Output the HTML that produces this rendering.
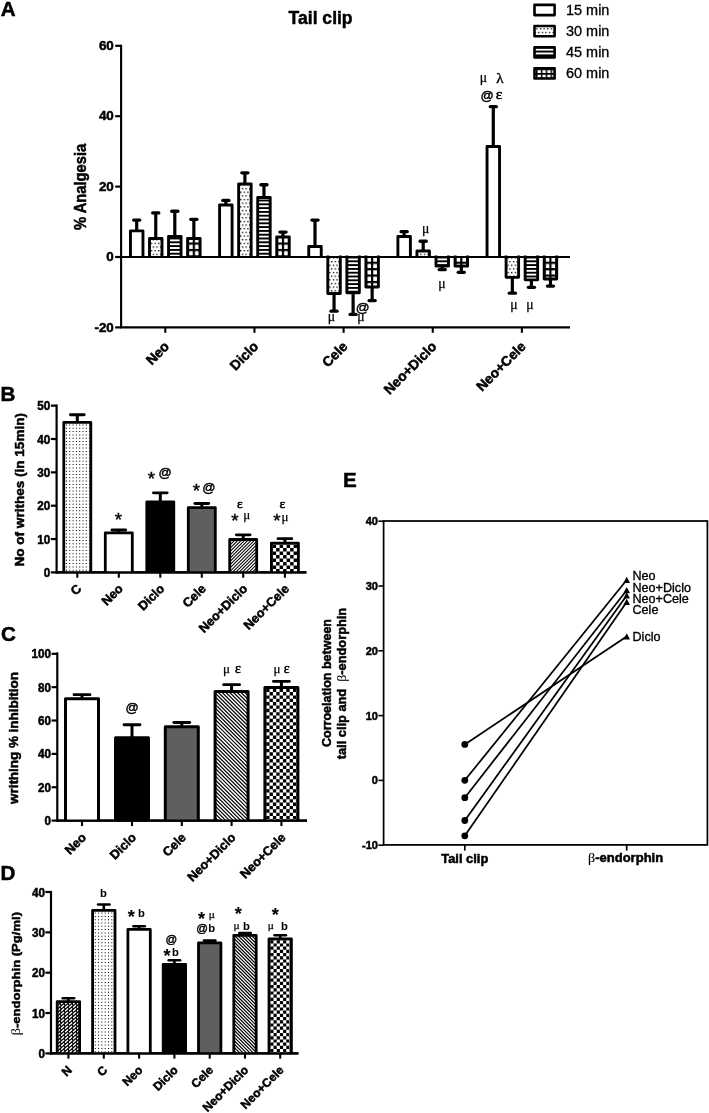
<!DOCTYPE html>
<html><head><meta charset="utf-8"><title>Figure</title>
<style>
html,body{margin:0;padding:0;background:#fff;}
body{width:709px;height:1113px;overflow:hidden;font-family:"Liberation Sans",sans-serif;}
svg{display:block;will-change:transform;}
text{fill:#000;}
text[font-weight=bold]{stroke:#000;stroke-width:0.5px;}
</style></head><body>
<svg width="709" height="1113" viewBox="0 0 709 1113">
<rect width="709" height="1113" fill="#fff"/>

<text x="0.80" y="15.80" font-size="20.6" font-weight="bold" text-anchor="start" font-family='"Liberation Sans", sans-serif' >A</text>
<text x="0.60" y="400.60" font-size="20.6" font-weight="bold" text-anchor="start" font-family='"Liberation Sans", sans-serif' >B</text>
<text x="0.90" y="640.70" font-size="20.6" font-weight="bold" text-anchor="start" font-family='"Liberation Sans", sans-serif' >C</text>
<text x="0.60" y="880.00" font-size="20.6" font-weight="bold" text-anchor="start" font-family='"Liberation Sans", sans-serif' >D</text>
<text x="342.90" y="486.70" font-size="20.6" font-weight="bold" text-anchor="start" font-family='"Liberation Sans", sans-serif' >E</text>
<text x="320.60" y="23.80" font-size="18.6" font-weight="bold" text-anchor="middle" font-family='"Liberation Sans", sans-serif' textLength="64.00" lengthAdjust="spacingAndGlyphs" >Tail clip</text>
<rect x="534.50" y="4.90" width="20.10" height="10.20" fill="#fff" stroke="#000" stroke-width="2.6" stroke-linejoin="round"/>
<text x="566.00" y="14.90" font-size="14" font-weight="normal" text-anchor="start" font-family='"Liberation Sans", sans-serif' textLength="43.40" lengthAdjust="spacingAndGlyphs" stroke="#000" stroke-width="0.3">15 min</text>
<rect x="534.50" y="26.05" width="20.10" height="10.20" fill="url(#p0)" stroke="#000" stroke-width="2.6" stroke-linejoin="round"/>
<text x="566.00" y="36.05" font-size="14" font-weight="normal" text-anchor="start" font-family='"Liberation Sans", sans-serif' textLength="43.40" lengthAdjust="spacingAndGlyphs" stroke="#000" stroke-width="0.3">30 min</text>
<rect x="534.50" y="47.20" width="20.10" height="10.20" fill="url(#p1)" stroke="#000" stroke-width="2.6" stroke-linejoin="round"/>
<text x="566.00" y="57.20" font-size="14" font-weight="normal" text-anchor="start" font-family='"Liberation Sans", sans-serif' textLength="43.40" lengthAdjust="spacingAndGlyphs" stroke="#000" stroke-width="0.3">45 min</text>
<rect x="534.50" y="68.35" width="20.10" height="10.20" fill="url(#p2)" stroke="#000" stroke-width="2.6" stroke-linejoin="round"/>
<text x="566.00" y="78.35" font-size="14" font-weight="normal" text-anchor="start" font-family='"Liberation Sans", sans-serif' textLength="43.40" lengthAdjust="spacingAndGlyphs" stroke="#000" stroke-width="0.3">60 min</text>
<line x1="121.10" y1="44.70" x2="121.10" y2="327.90" stroke="#000" stroke-width="2.1" stroke-linecap="butt"/>
<line x1="120.10" y1="257.00" x2="570.00" y2="257.00" stroke="#000" stroke-width="2.1" stroke-linecap="butt"/>
<line x1="120.10" y1="327.40" x2="570.00" y2="327.40" stroke="#000" stroke-width="2.1" stroke-linecap="butt"/>
<line x1="115.20" y1="45.80" x2="121.10" y2="45.80" stroke="#000" stroke-width="2.2" stroke-linecap="butt"/>
<text x="113.80" y="49.90" font-size="13.4" font-weight="bold" text-anchor="end" font-family='"Liberation Sans", sans-serif' >60</text>
<line x1="115.20" y1="116.20" x2="121.10" y2="116.20" stroke="#000" stroke-width="2.2" stroke-linecap="butt"/>
<text x="113.80" y="120.30" font-size="13.4" font-weight="bold" text-anchor="end" font-family='"Liberation Sans", sans-serif' >40</text>
<line x1="115.20" y1="186.60" x2="121.10" y2="186.60" stroke="#000" stroke-width="2.2" stroke-linecap="butt"/>
<text x="113.80" y="190.70" font-size="13.4" font-weight="bold" text-anchor="end" font-family='"Liberation Sans", sans-serif' >20</text>
<line x1="115.20" y1="257.00" x2="121.10" y2="257.00" stroke="#000" stroke-width="2.2" stroke-linecap="butt"/>
<text x="113.80" y="261.10" font-size="13.4" font-weight="bold" text-anchor="end" font-family='"Liberation Sans", sans-serif' >0</text>
<line x1="115.20" y1="327.40" x2="121.10" y2="327.40" stroke="#000" stroke-width="2.2" stroke-linecap="butt"/>
<text x="113.80" y="331.50" font-size="13.4" font-weight="bold" text-anchor="end" font-family='"Liberation Sans", sans-serif' >-20</text>
<text x="85.60" y="230.00" font-size="16.5" font-weight="bold" text-anchor="start" font-family='"Liberation Sans", sans-serif' transform="rotate(-90 85.60 230.00)" textLength="86.20" lengthAdjust="spacingAndGlyphs" >% Analgesia</text>
<line x1="136.70" y1="230.40" x2="136.70" y2="220.05" stroke="#000" stroke-width="3.2"/>
<line x1="133.65" y1="220.05" x2="139.75" y2="220.05" stroke="#000" stroke-width="3.3" stroke-linecap="round"/>
<rect x="130.45" y="230.85" width="12.50" height="26.15" fill="#fff"/>
<path d="M130.45,257.00 L130.45,230.85 L142.95,230.85 L142.95,257.00" fill="none" stroke="#000" stroke-width="2.9" stroke-linejoin="round"/>
<line x1="155.75" y1="238.00" x2="155.75" y2="212.95" stroke="#000" stroke-width="3.2"/>
<line x1="152.70" y1="212.95" x2="158.80" y2="212.95" stroke="#000" stroke-width="3.3" stroke-linecap="round"/>
<rect x="149.50" y="238.45" width="12.50" height="18.55" fill="url(#p3)"/>
<path d="M149.50,257.00 L149.50,238.45 L162.00,238.45 L162.00,257.00" fill="none" stroke="#000" stroke-width="2.9" stroke-linejoin="round"/>
<line x1="174.80" y1="236.00" x2="174.80" y2="211.25" stroke="#000" stroke-width="3.2"/>
<line x1="171.75" y1="211.25" x2="177.85" y2="211.25" stroke="#000" stroke-width="3.3" stroke-linecap="round"/>
<rect x="168.55" y="236.45" width="12.50" height="20.55" fill="url(#p4)"/>
<path d="M168.55,257.00 L168.55,236.45 L181.05,236.45 L181.05,257.00" fill="none" stroke="#000" stroke-width="2.9" stroke-linejoin="round"/>
<line x1="193.85" y1="238.00" x2="193.85" y2="219.35" stroke="#000" stroke-width="3.2"/>
<line x1="190.80" y1="219.35" x2="196.90" y2="219.35" stroke="#000" stroke-width="3.3" stroke-linecap="round"/>
<rect x="187.60" y="238.45" width="12.50" height="18.55" fill="url(#p5)"/>
<path d="M187.60,257.00 L187.60,238.45 L200.10,238.45 L200.10,257.00" fill="none" stroke="#000" stroke-width="2.9" stroke-linejoin="round"/>
<line x1="165.30" y1="327.40" x2="165.30" y2="332.80" stroke="#000" stroke-width="2.1" stroke-linecap="butt"/>
<text x="170.10" y="347.30" font-size="13.8" font-weight="bold" text-anchor="end" font-family='"Liberation Sans", sans-serif' transform="rotate(-45 170.10 347.30)" >Neo</text>
<line x1="225.85" y1="204.50" x2="225.85" y2="200.45" stroke="#000" stroke-width="3.2"/>
<line x1="222.80" y1="200.45" x2="228.90" y2="200.45" stroke="#000" stroke-width="3.3" stroke-linecap="round"/>
<rect x="219.60" y="204.95" width="12.50" height="52.05" fill="#fff"/>
<path d="M219.60,257.00 L219.60,204.95 L232.10,204.95 L232.10,257.00" fill="none" stroke="#000" stroke-width="2.9" stroke-linejoin="round"/>
<line x1="244.90" y1="183.60" x2="244.90" y2="172.85" stroke="#000" stroke-width="3.2"/>
<line x1="241.85" y1="172.85" x2="247.95" y2="172.85" stroke="#000" stroke-width="3.3" stroke-linecap="round"/>
<rect x="238.65" y="184.05" width="12.50" height="72.95" fill="url(#p6)"/>
<path d="M238.65,257.00 L238.65,184.05 L251.15,184.05 L251.15,257.00" fill="none" stroke="#000" stroke-width="2.9" stroke-linejoin="round"/>
<line x1="263.95" y1="197.00" x2="263.95" y2="184.75" stroke="#000" stroke-width="3.2"/>
<line x1="260.90" y1="184.75" x2="267.00" y2="184.75" stroke="#000" stroke-width="3.3" stroke-linecap="round"/>
<rect x="257.70" y="197.45" width="12.50" height="59.55" fill="url(#p7)"/>
<path d="M257.70,257.00 L257.70,197.45 L270.20,197.45 L270.20,257.00" fill="none" stroke="#000" stroke-width="2.9" stroke-linejoin="round"/>
<line x1="283.00" y1="236.40" x2="283.00" y2="232.05" stroke="#000" stroke-width="3.2"/>
<line x1="279.95" y1="232.05" x2="286.05" y2="232.05" stroke="#000" stroke-width="3.3" stroke-linecap="round"/>
<rect x="276.75" y="236.85" width="12.50" height="20.15" fill="url(#p8)"/>
<path d="M276.75,257.00 L276.75,236.85 L289.25,236.85 L289.25,257.00" fill="none" stroke="#000" stroke-width="2.9" stroke-linejoin="round"/>
<line x1="254.45" y1="327.40" x2="254.45" y2="332.80" stroke="#000" stroke-width="2.1" stroke-linecap="butt"/>
<text x="259.25" y="347.30" font-size="13.8" font-weight="bold" text-anchor="end" font-family='"Liberation Sans", sans-serif' transform="rotate(-45 259.25 347.30)" >Diclo</text>
<line x1="315.00" y1="246.10" x2="315.00" y2="220.05" stroke="#000" stroke-width="3.2"/>
<line x1="311.95" y1="220.05" x2="318.05" y2="220.05" stroke="#000" stroke-width="3.3" stroke-linecap="round"/>
<rect x="308.75" y="246.55" width="12.50" height="10.45" fill="#fff"/>
<path d="M308.75,257.00 L308.75,246.55 L321.25,246.55 L321.25,257.00" fill="none" stroke="#000" stroke-width="2.9" stroke-linejoin="round"/>
<line x1="334.05" y1="294.00" x2="334.05" y2="311.15" stroke="#000" stroke-width="3.2"/>
<line x1="331.00" y1="311.15" x2="337.10" y2="311.15" stroke="#000" stroke-width="3.3" stroke-linecap="round"/>
<rect x="327.80" y="257.00" width="12.50" height="36.55" fill="url(#p9)"/>
<path d="M327.80,255.40 L327.80,293.55 L340.30,293.55 L340.30,255.40" fill="none" stroke="#000" stroke-width="2.9" stroke-linejoin="round"/>
<line x1="353.10" y1="293.20" x2="353.10" y2="314.45" stroke="#000" stroke-width="3.2"/>
<line x1="350.05" y1="314.45" x2="356.15" y2="314.45" stroke="#000" stroke-width="3.3" stroke-linecap="round"/>
<rect x="346.85" y="257.00" width="12.50" height="35.75" fill="url(#p10)"/>
<path d="M346.85,255.40 L346.85,292.75 L359.35,292.75 L359.35,255.40" fill="none" stroke="#000" stroke-width="2.9" stroke-linejoin="round"/>
<line x1="372.15" y1="287.40" x2="372.15" y2="300.55" stroke="#000" stroke-width="3.2"/>
<line x1="369.10" y1="300.55" x2="375.20" y2="300.55" stroke="#000" stroke-width="3.3" stroke-linecap="round"/>
<rect x="365.90" y="257.00" width="12.50" height="29.95" fill="url(#p11)"/>
<path d="M365.90,255.40 L365.90,286.95 L378.40,286.95 L378.40,255.40" fill="none" stroke="#000" stroke-width="2.9" stroke-linejoin="round"/>
<line x1="343.60" y1="327.40" x2="343.60" y2="332.80" stroke="#000" stroke-width="2.1" stroke-linecap="butt"/>
<text x="348.40" y="347.30" font-size="13.8" font-weight="bold" text-anchor="end" font-family='"Liberation Sans", sans-serif' transform="rotate(-45 348.40 347.30)" >Cele</text>
<line x1="404.15" y1="236.00" x2="404.15" y2="231.65" stroke="#000" stroke-width="3.2"/>
<line x1="401.10" y1="231.65" x2="407.20" y2="231.65" stroke="#000" stroke-width="3.3" stroke-linecap="round"/>
<rect x="397.90" y="236.45" width="12.50" height="20.55" fill="#fff"/>
<path d="M397.90,257.00 L397.90,236.45 L410.40,236.45 L410.40,257.00" fill="none" stroke="#000" stroke-width="2.9" stroke-linejoin="round"/>
<line x1="423.20" y1="250.60" x2="423.20" y2="241.25" stroke="#000" stroke-width="3.2"/>
<line x1="420.15" y1="241.25" x2="426.25" y2="241.25" stroke="#000" stroke-width="3.3" stroke-linecap="round"/>
<rect x="416.95" y="251.05" width="12.50" height="5.95" fill="url(#p12)"/>
<path d="M416.95,257.00 L416.95,251.05 L429.45,251.05 L429.45,257.00" fill="none" stroke="#000" stroke-width="2.9" stroke-linejoin="round"/>
<line x1="442.25" y1="266.60" x2="442.25" y2="269.55" stroke="#000" stroke-width="3.2"/>
<line x1="439.20" y1="269.55" x2="445.30" y2="269.55" stroke="#000" stroke-width="3.3" stroke-linecap="round"/>
<rect x="436.00" y="257.00" width="12.50" height="9.15" fill="url(#p13)"/>
<path d="M436.00,255.40 L436.00,266.15 L448.50,266.15 L448.50,255.40" fill="none" stroke="#000" stroke-width="2.9" stroke-linejoin="round"/>
<line x1="461.30" y1="266.60" x2="461.30" y2="272.35" stroke="#000" stroke-width="3.2"/>
<line x1="458.25" y1="272.35" x2="464.35" y2="272.35" stroke="#000" stroke-width="3.3" stroke-linecap="round"/>
<rect x="455.05" y="257.00" width="12.50" height="9.15" fill="url(#p14)"/>
<path d="M455.05,255.40 L455.05,266.15 L467.55,266.15 L467.55,255.40" fill="none" stroke="#000" stroke-width="2.9" stroke-linejoin="round"/>
<line x1="432.75" y1="327.40" x2="432.75" y2="332.80" stroke="#000" stroke-width="2.1" stroke-linecap="butt"/>
<text x="437.55" y="347.30" font-size="13.8" font-weight="bold" text-anchor="end" font-family='"Liberation Sans", sans-serif' transform="rotate(-45 437.55 347.30)" >Neo+Diclo</text>
<line x1="493.30" y1="146.10" x2="493.30" y2="106.65" stroke="#000" stroke-width="3.2"/>
<line x1="490.25" y1="106.65" x2="496.35" y2="106.65" stroke="#000" stroke-width="3.3" stroke-linecap="round"/>
<rect x="487.05" y="146.55" width="12.50" height="110.45" fill="#fff"/>
<path d="M487.05,257.00 L487.05,146.55 L499.55,146.55 L499.55,257.00" fill="none" stroke="#000" stroke-width="2.9" stroke-linejoin="round"/>
<line x1="512.35" y1="277.80" x2="512.35" y2="293.15" stroke="#000" stroke-width="3.2"/>
<line x1="509.30" y1="293.15" x2="515.40" y2="293.15" stroke="#000" stroke-width="3.3" stroke-linecap="round"/>
<rect x="506.10" y="257.00" width="12.50" height="20.35" fill="url(#p15)"/>
<path d="M506.10,255.40 L506.10,277.35 L518.60,277.35 L518.60,255.40" fill="none" stroke="#000" stroke-width="2.9" stroke-linejoin="round"/>
<line x1="531.40" y1="280.30" x2="531.40" y2="287.35" stroke="#000" stroke-width="3.2"/>
<line x1="528.35" y1="287.35" x2="534.45" y2="287.35" stroke="#000" stroke-width="3.3" stroke-linecap="round"/>
<rect x="525.15" y="257.00" width="12.50" height="22.85" fill="url(#p16)"/>
<path d="M525.15,255.40 L525.15,279.85 L537.65,279.85 L537.65,255.40" fill="none" stroke="#000" stroke-width="2.9" stroke-linejoin="round"/>
<line x1="550.45" y1="279.50" x2="550.45" y2="286.05" stroke="#000" stroke-width="3.2"/>
<line x1="547.40" y1="286.05" x2="553.50" y2="286.05" stroke="#000" stroke-width="3.3" stroke-linecap="round"/>
<rect x="544.20" y="257.00" width="12.50" height="22.05" fill="url(#p17)"/>
<path d="M544.20,255.40 L544.20,279.05 L556.70,279.05 L556.70,255.40" fill="none" stroke="#000" stroke-width="2.9" stroke-linejoin="round"/>
<line x1="521.90" y1="327.40" x2="521.90" y2="332.80" stroke="#000" stroke-width="2.1" stroke-linecap="butt"/>
<text x="526.70" y="347.30" font-size="13.8" font-weight="bold" text-anchor="end" font-family='"Liberation Sans", sans-serif' transform="rotate(-45 526.70 347.30)" >Neo+Cele</text>
<line x1="120.10" y1="257.00" x2="570.00" y2="257.00" stroke="#000" stroke-width="2.0" stroke-linecap="butt"/>
<text x="331.40" y="320.50" font-size="13.7" font-weight="normal" text-anchor="middle" font-family='"Liberation Serif", serif' stroke="#000" stroke-width="0.25">μ</text>
<text x="362.70" y="311.90" font-size="13.6" font-weight="normal" text-anchor="middle" font-family='"Liberation Sans", sans-serif' stroke="#000" stroke-width="0.45">@</text>
<text x="361.00" y="320.50" font-size="13.7" font-weight="normal" text-anchor="middle" font-family='"Liberation Serif", serif' stroke="#000" stroke-width="0.25">μ</text>
<text x="425.60" y="232.90" font-size="13.7" font-weight="normal" text-anchor="middle" font-family='"Liberation Serif", serif' stroke="#000" stroke-width="0.25">μ</text>
<text x="441.80" y="287.50" font-size="13.7" font-weight="normal" text-anchor="middle" font-family='"Liberation Serif", serif' stroke="#000" stroke-width="0.25">μ</text>
<text x="483.30" y="81.50" font-size="13.7" font-weight="normal" text-anchor="middle" font-family='"Liberation Serif", serif' stroke="#000" stroke-width="0.25">μ</text>
<text x="499.80" y="83.00" font-size="15" font-weight="normal" text-anchor="middle" font-family='"Liberation Serif", serif' stroke="#000" stroke-width="0.4">λ</text>
<text x="487.20" y="99.60" font-size="13" font-weight="normal" text-anchor="middle" font-family='"Liberation Sans", sans-serif' stroke="#000" stroke-width="0.45">@</text>
<text x="499.00" y="98.80" font-size="15.5" font-weight="normal" text-anchor="middle" font-family='"Liberation Serif", serif' stroke="#000" stroke-width="0.5">ε</text>
<text x="513.80" y="309.00" font-size="13.7" font-weight="normal" text-anchor="middle" font-family='"Liberation Serif", serif' stroke="#000" stroke-width="0.25">μ</text>
<text x="530.00" y="309.00" font-size="13.7" font-weight="normal" text-anchor="middle" font-family='"Liberation Serif", serif' stroke="#000" stroke-width="0.25">μ</text>
<line x1="56.60" y1="404.50" x2="56.60" y2="573.50" stroke="#000" stroke-width="2.2" stroke-linecap="butt"/>
<line x1="55.50" y1="572.40" x2="306.40" y2="572.40" stroke="#000" stroke-width="2.2" stroke-linecap="butt"/>
<line x1="50.80" y1="572.40" x2="56.60" y2="572.40" stroke="#000" stroke-width="2.2" stroke-linecap="butt"/>
<text x="50.30" y="577.00" font-size="12.4" font-weight="bold" text-anchor="end" font-family='"Liberation Sans", sans-serif' textLength="6.50" lengthAdjust="spacingAndGlyphs" >0</text>
<line x1="50.80" y1="539.05" x2="56.60" y2="539.05" stroke="#000" stroke-width="2.2" stroke-linecap="butt"/>
<text x="50.30" y="543.65" font-size="12.4" font-weight="bold" text-anchor="end" font-family='"Liberation Sans", sans-serif' textLength="13.00" lengthAdjust="spacingAndGlyphs" >10</text>
<line x1="50.80" y1="505.70" x2="56.60" y2="505.70" stroke="#000" stroke-width="2.2" stroke-linecap="butt"/>
<text x="50.30" y="510.30" font-size="12.4" font-weight="bold" text-anchor="end" font-family='"Liberation Sans", sans-serif' textLength="13.00" lengthAdjust="spacingAndGlyphs" >20</text>
<line x1="50.80" y1="472.35" x2="56.60" y2="472.35" stroke="#000" stroke-width="2.2" stroke-linecap="butt"/>
<text x="50.30" y="476.95" font-size="12.4" font-weight="bold" text-anchor="end" font-family='"Liberation Sans", sans-serif' textLength="13.00" lengthAdjust="spacingAndGlyphs" >30</text>
<line x1="50.80" y1="439.00" x2="56.60" y2="439.00" stroke="#000" stroke-width="2.2" stroke-linecap="butt"/>
<text x="50.30" y="443.60" font-size="12.4" font-weight="bold" text-anchor="end" font-family='"Liberation Sans", sans-serif' textLength="13.00" lengthAdjust="spacingAndGlyphs" >40</text>
<line x1="50.80" y1="405.65" x2="56.60" y2="405.65" stroke="#000" stroke-width="2.2" stroke-linecap="butt"/>
<text x="50.30" y="410.25" font-size="12.4" font-weight="bold" text-anchor="end" font-family='"Liberation Sans", sans-serif' textLength="13.00" lengthAdjust="spacingAndGlyphs" >50</text>
<text x="24.30" y="566.50" font-size="12.7" font-weight="bold" text-anchor="start" font-family='"Liberation Sans", sans-serif' transform="rotate(-90 24.30 566.50)" textLength="153.50" lengthAdjust="spacingAndGlyphs" >No of writhes (in 15min)</text>
<line x1="77.30" y1="421.90" x2="77.30" y2="414.75" stroke="#000" stroke-width="3.0"/>
<line x1="70.45" y1="414.75" x2="84.15" y2="414.75" stroke="#000" stroke-width="2.9" stroke-linecap="round"/>
<rect x="64.80" y="423.30" width="25.00" height="148.30" fill="#fff"/>
<path d="M66.0,424.5h1.0v1.0h-1.0zM69.3,424.5h1.0v1.0h-1.0zM72.6,424.5h1.0v1.0h-1.0zM75.9,424.5h1.0v1.0h-1.0zM79.2,424.5h1.0v1.0h-1.0zM82.5,424.5h1.0v1.0h-1.0zM85.8,424.5h1.0v1.0h-1.0zM89.1,424.5h1.0v1.0h-1.0zM66.0,427.8h1.0v1.0h-1.0zM69.3,427.8h1.0v1.0h-1.0zM72.6,427.8h1.0v1.0h-1.0zM75.9,427.8h1.0v1.0h-1.0zM79.2,427.8h1.0v1.0h-1.0zM82.5,427.8h1.0v1.0h-1.0zM85.8,427.8h1.0v1.0h-1.0zM89.1,427.8h1.0v1.0h-1.0zM66.0,431.1h1.0v1.0h-1.0zM69.3,431.1h1.0v1.0h-1.0zM72.6,431.1h1.0v1.0h-1.0zM75.9,431.1h1.0v1.0h-1.0zM79.2,431.1h1.0v1.0h-1.0zM82.5,431.1h1.0v1.0h-1.0zM85.8,431.1h1.0v1.0h-1.0zM89.1,431.1h1.0v1.0h-1.0zM66.0,434.4h1.0v1.0h-1.0zM69.3,434.4h1.0v1.0h-1.0zM72.6,434.4h1.0v1.0h-1.0zM75.9,434.4h1.0v1.0h-1.0zM79.2,434.4h1.0v1.0h-1.0zM82.5,434.4h1.0v1.0h-1.0zM85.8,434.4h1.0v1.0h-1.0zM89.1,434.4h1.0v1.0h-1.0zM66.0,437.7h1.0v1.0h-1.0zM69.3,437.7h1.0v1.0h-1.0zM72.6,437.7h1.0v1.0h-1.0zM75.9,437.7h1.0v1.0h-1.0zM79.2,437.7h1.0v1.0h-1.0zM82.5,437.7h1.0v1.0h-1.0zM85.8,437.7h1.0v1.0h-1.0zM89.1,437.7h1.0v1.0h-1.0zM66.0,441.0h1.0v1.0h-1.0zM69.3,441.0h1.0v1.0h-1.0zM72.6,441.0h1.0v1.0h-1.0zM75.9,441.0h1.0v1.0h-1.0zM79.2,441.0h1.0v1.0h-1.0zM82.5,441.0h1.0v1.0h-1.0zM85.8,441.0h1.0v1.0h-1.0zM89.1,441.0h1.0v1.0h-1.0zM66.0,444.3h1.0v1.0h-1.0zM69.3,444.3h1.0v1.0h-1.0zM72.6,444.3h1.0v1.0h-1.0zM75.9,444.3h1.0v1.0h-1.0zM79.2,444.3h1.0v1.0h-1.0zM82.5,444.3h1.0v1.0h-1.0zM85.8,444.3h1.0v1.0h-1.0zM89.1,444.3h1.0v1.0h-1.0zM66.0,447.6h1.0v1.0h-1.0zM69.3,447.6h1.0v1.0h-1.0zM72.6,447.6h1.0v1.0h-1.0zM75.9,447.6h1.0v1.0h-1.0zM79.2,447.6h1.0v1.0h-1.0zM82.5,447.6h1.0v1.0h-1.0zM85.8,447.6h1.0v1.0h-1.0zM89.1,447.6h1.0v1.0h-1.0zM66.0,450.9h1.0v1.0h-1.0zM69.3,450.9h1.0v1.0h-1.0zM72.6,450.9h1.0v1.0h-1.0zM75.9,450.9h1.0v1.0h-1.0zM79.2,450.9h1.0v1.0h-1.0zM82.5,450.9h1.0v1.0h-1.0zM85.8,450.9h1.0v1.0h-1.0zM89.1,450.9h1.0v1.0h-1.0zM66.0,454.2h1.0v1.0h-1.0zM69.3,454.2h1.0v1.0h-1.0zM72.6,454.2h1.0v1.0h-1.0zM75.9,454.2h1.0v1.0h-1.0zM79.2,454.2h1.0v1.0h-1.0zM82.5,454.2h1.0v1.0h-1.0zM85.8,454.2h1.0v1.0h-1.0zM89.1,454.2h1.0v1.0h-1.0zM66.0,457.5h1.0v1.0h-1.0zM69.3,457.5h1.0v1.0h-1.0zM72.6,457.5h1.0v1.0h-1.0zM75.9,457.5h1.0v1.0h-1.0zM79.2,457.5h1.0v1.0h-1.0zM82.5,457.5h1.0v1.0h-1.0zM85.8,457.5h1.0v1.0h-1.0zM89.1,457.5h1.0v1.0h-1.0zM66.0,460.8h1.0v1.0h-1.0zM69.3,460.8h1.0v1.0h-1.0zM72.6,460.8h1.0v1.0h-1.0zM75.9,460.8h1.0v1.0h-1.0zM79.2,460.8h1.0v1.0h-1.0zM82.5,460.8h1.0v1.0h-1.0zM85.8,460.8h1.0v1.0h-1.0zM89.1,460.8h1.0v1.0h-1.0zM66.0,464.1h1.0v1.0h-1.0zM69.3,464.1h1.0v1.0h-1.0zM72.6,464.1h1.0v1.0h-1.0zM75.9,464.1h1.0v1.0h-1.0zM79.2,464.1h1.0v1.0h-1.0zM82.5,464.1h1.0v1.0h-1.0zM85.8,464.1h1.0v1.0h-1.0zM89.1,464.1h1.0v1.0h-1.0zM66.0,467.4h1.0v1.0h-1.0zM69.3,467.4h1.0v1.0h-1.0zM72.6,467.4h1.0v1.0h-1.0zM75.9,467.4h1.0v1.0h-1.0zM79.2,467.4h1.0v1.0h-1.0zM82.5,467.4h1.0v1.0h-1.0zM85.8,467.4h1.0v1.0h-1.0zM89.1,467.4h1.0v1.0h-1.0zM66.0,470.7h1.0v1.0h-1.0zM69.3,470.7h1.0v1.0h-1.0zM72.6,470.7h1.0v1.0h-1.0zM75.9,470.7h1.0v1.0h-1.0zM79.2,470.7h1.0v1.0h-1.0zM82.5,470.7h1.0v1.0h-1.0zM85.8,470.7h1.0v1.0h-1.0zM89.1,470.7h1.0v1.0h-1.0zM66.0,474.0h1.0v1.0h-1.0zM69.3,474.0h1.0v1.0h-1.0zM72.6,474.0h1.0v1.0h-1.0zM75.9,474.0h1.0v1.0h-1.0zM79.2,474.0h1.0v1.0h-1.0zM82.5,474.0h1.0v1.0h-1.0zM85.8,474.0h1.0v1.0h-1.0zM89.1,474.0h1.0v1.0h-1.0zM66.0,477.3h1.0v1.0h-1.0zM69.3,477.3h1.0v1.0h-1.0zM72.6,477.3h1.0v1.0h-1.0zM75.9,477.3h1.0v1.0h-1.0zM79.2,477.3h1.0v1.0h-1.0zM82.5,477.3h1.0v1.0h-1.0zM85.8,477.3h1.0v1.0h-1.0zM89.1,477.3h1.0v1.0h-1.0zM66.0,480.6h1.0v1.0h-1.0zM69.3,480.6h1.0v1.0h-1.0zM72.6,480.6h1.0v1.0h-1.0zM75.9,480.6h1.0v1.0h-1.0zM79.2,480.6h1.0v1.0h-1.0zM82.5,480.6h1.0v1.0h-1.0zM85.8,480.6h1.0v1.0h-1.0zM89.1,480.6h1.0v1.0h-1.0zM66.0,483.9h1.0v1.0h-1.0zM69.3,483.9h1.0v1.0h-1.0zM72.6,483.9h1.0v1.0h-1.0zM75.9,483.9h1.0v1.0h-1.0zM79.2,483.9h1.0v1.0h-1.0zM82.5,483.9h1.0v1.0h-1.0zM85.8,483.9h1.0v1.0h-1.0zM89.1,483.9h1.0v1.0h-1.0zM66.0,487.2h1.0v1.0h-1.0zM69.3,487.2h1.0v1.0h-1.0zM72.6,487.2h1.0v1.0h-1.0zM75.9,487.2h1.0v1.0h-1.0zM79.2,487.2h1.0v1.0h-1.0zM82.5,487.2h1.0v1.0h-1.0zM85.8,487.2h1.0v1.0h-1.0zM89.1,487.2h1.0v1.0h-1.0zM66.0,490.5h1.0v1.0h-1.0zM69.3,490.5h1.0v1.0h-1.0zM72.6,490.5h1.0v1.0h-1.0zM75.9,490.5h1.0v1.0h-1.0zM79.2,490.5h1.0v1.0h-1.0zM82.5,490.5h1.0v1.0h-1.0zM85.8,490.5h1.0v1.0h-1.0zM89.1,490.5h1.0v1.0h-1.0zM66.0,493.8h1.0v1.0h-1.0zM69.3,493.8h1.0v1.0h-1.0zM72.6,493.8h1.0v1.0h-1.0zM75.9,493.8h1.0v1.0h-1.0zM79.2,493.8h1.0v1.0h-1.0zM82.5,493.8h1.0v1.0h-1.0zM85.8,493.8h1.0v1.0h-1.0zM89.1,493.8h1.0v1.0h-1.0zM66.0,497.1h1.0v1.0h-1.0zM69.3,497.1h1.0v1.0h-1.0zM72.6,497.1h1.0v1.0h-1.0zM75.9,497.1h1.0v1.0h-1.0zM79.2,497.1h1.0v1.0h-1.0zM82.5,497.1h1.0v1.0h-1.0zM85.8,497.1h1.0v1.0h-1.0zM89.1,497.1h1.0v1.0h-1.0zM66.0,500.4h1.0v1.0h-1.0zM69.3,500.4h1.0v1.0h-1.0zM72.6,500.4h1.0v1.0h-1.0zM75.9,500.4h1.0v1.0h-1.0zM79.2,500.4h1.0v1.0h-1.0zM82.5,500.4h1.0v1.0h-1.0zM85.8,500.4h1.0v1.0h-1.0zM89.1,500.4h1.0v1.0h-1.0zM66.0,503.7h1.0v1.0h-1.0zM69.3,503.7h1.0v1.0h-1.0zM72.6,503.7h1.0v1.0h-1.0zM75.9,503.7h1.0v1.0h-1.0zM79.2,503.7h1.0v1.0h-1.0zM82.5,503.7h1.0v1.0h-1.0zM85.8,503.7h1.0v1.0h-1.0zM89.1,503.7h1.0v1.0h-1.0zM66.0,507.0h1.0v1.0h-1.0zM69.3,507.0h1.0v1.0h-1.0zM72.6,507.0h1.0v1.0h-1.0zM75.9,507.0h1.0v1.0h-1.0zM79.2,507.0h1.0v1.0h-1.0zM82.5,507.0h1.0v1.0h-1.0zM85.8,507.0h1.0v1.0h-1.0zM89.1,507.0h1.0v1.0h-1.0zM66.0,510.3h1.0v1.0h-1.0zM69.3,510.3h1.0v1.0h-1.0zM72.6,510.3h1.0v1.0h-1.0zM75.9,510.3h1.0v1.0h-1.0zM79.2,510.3h1.0v1.0h-1.0zM82.5,510.3h1.0v1.0h-1.0zM85.8,510.3h1.0v1.0h-1.0zM89.1,510.3h1.0v1.0h-1.0zM66.0,513.6h1.0v1.0h-1.0zM69.3,513.6h1.0v1.0h-1.0zM72.6,513.6h1.0v1.0h-1.0zM75.9,513.6h1.0v1.0h-1.0zM79.2,513.6h1.0v1.0h-1.0zM82.5,513.6h1.0v1.0h-1.0zM85.8,513.6h1.0v1.0h-1.0zM89.1,513.6h1.0v1.0h-1.0zM66.0,516.9h1.0v1.0h-1.0zM69.3,516.9h1.0v1.0h-1.0zM72.6,516.9h1.0v1.0h-1.0zM75.9,516.9h1.0v1.0h-1.0zM79.2,516.9h1.0v1.0h-1.0zM82.5,516.9h1.0v1.0h-1.0zM85.8,516.9h1.0v1.0h-1.0zM89.1,516.9h1.0v1.0h-1.0zM66.0,520.2h1.0v1.0h-1.0zM69.3,520.2h1.0v1.0h-1.0zM72.6,520.2h1.0v1.0h-1.0zM75.9,520.2h1.0v1.0h-1.0zM79.2,520.2h1.0v1.0h-1.0zM82.5,520.2h1.0v1.0h-1.0zM85.8,520.2h1.0v1.0h-1.0zM89.1,520.2h1.0v1.0h-1.0zM66.0,523.5h1.0v1.0h-1.0zM69.3,523.5h1.0v1.0h-1.0zM72.6,523.5h1.0v1.0h-1.0zM75.9,523.5h1.0v1.0h-1.0zM79.2,523.5h1.0v1.0h-1.0zM82.5,523.5h1.0v1.0h-1.0zM85.8,523.5h1.0v1.0h-1.0zM89.1,523.5h1.0v1.0h-1.0zM66.0,526.8h1.0v1.0h-1.0zM69.3,526.8h1.0v1.0h-1.0zM72.6,526.8h1.0v1.0h-1.0zM75.9,526.8h1.0v1.0h-1.0zM79.2,526.8h1.0v1.0h-1.0zM82.5,526.8h1.0v1.0h-1.0zM85.8,526.8h1.0v1.0h-1.0zM89.1,526.8h1.0v1.0h-1.0zM66.0,530.1h1.0v1.0h-1.0zM69.3,530.1h1.0v1.0h-1.0zM72.6,530.1h1.0v1.0h-1.0zM75.9,530.1h1.0v1.0h-1.0zM79.2,530.1h1.0v1.0h-1.0zM82.5,530.1h1.0v1.0h-1.0zM85.8,530.1h1.0v1.0h-1.0zM89.1,530.1h1.0v1.0h-1.0zM66.0,533.4h1.0v1.0h-1.0zM69.3,533.4h1.0v1.0h-1.0zM72.6,533.4h1.0v1.0h-1.0zM75.9,533.4h1.0v1.0h-1.0zM79.2,533.4h1.0v1.0h-1.0zM82.5,533.4h1.0v1.0h-1.0zM85.8,533.4h1.0v1.0h-1.0zM89.1,533.4h1.0v1.0h-1.0zM66.0,536.7h1.0v1.0h-1.0zM69.3,536.7h1.0v1.0h-1.0zM72.6,536.7h1.0v1.0h-1.0zM75.9,536.7h1.0v1.0h-1.0zM79.2,536.7h1.0v1.0h-1.0zM82.5,536.7h1.0v1.0h-1.0zM85.8,536.7h1.0v1.0h-1.0zM89.1,536.7h1.0v1.0h-1.0zM66.0,540.0h1.0v1.0h-1.0zM69.3,540.0h1.0v1.0h-1.0zM72.6,540.0h1.0v1.0h-1.0zM75.9,540.0h1.0v1.0h-1.0zM79.2,540.0h1.0v1.0h-1.0zM82.5,540.0h1.0v1.0h-1.0zM85.8,540.0h1.0v1.0h-1.0zM89.1,540.0h1.0v1.0h-1.0zM66.0,543.3h1.0v1.0h-1.0zM69.3,543.3h1.0v1.0h-1.0zM72.6,543.3h1.0v1.0h-1.0zM75.9,543.3h1.0v1.0h-1.0zM79.2,543.3h1.0v1.0h-1.0zM82.5,543.3h1.0v1.0h-1.0zM85.8,543.3h1.0v1.0h-1.0zM89.1,543.3h1.0v1.0h-1.0zM66.0,546.6h1.0v1.0h-1.0zM69.3,546.6h1.0v1.0h-1.0zM72.6,546.6h1.0v1.0h-1.0zM75.9,546.6h1.0v1.0h-1.0zM79.2,546.6h1.0v1.0h-1.0zM82.5,546.6h1.0v1.0h-1.0zM85.8,546.6h1.0v1.0h-1.0zM89.1,546.6h1.0v1.0h-1.0zM66.0,549.9h1.0v1.0h-1.0zM69.3,549.9h1.0v1.0h-1.0zM72.6,549.9h1.0v1.0h-1.0zM75.9,549.9h1.0v1.0h-1.0zM79.2,549.9h1.0v1.0h-1.0zM82.5,549.9h1.0v1.0h-1.0zM85.8,549.9h1.0v1.0h-1.0zM89.1,549.9h1.0v1.0h-1.0zM66.0,553.2h1.0v1.0h-1.0zM69.3,553.2h1.0v1.0h-1.0zM72.6,553.2h1.0v1.0h-1.0zM75.9,553.2h1.0v1.0h-1.0zM79.2,553.2h1.0v1.0h-1.0zM82.5,553.2h1.0v1.0h-1.0zM85.8,553.2h1.0v1.0h-1.0zM89.1,553.2h1.0v1.0h-1.0zM66.0,556.5h1.0v1.0h-1.0zM69.3,556.5h1.0v1.0h-1.0zM72.6,556.5h1.0v1.0h-1.0zM75.9,556.5h1.0v1.0h-1.0zM79.2,556.5h1.0v1.0h-1.0zM82.5,556.5h1.0v1.0h-1.0zM85.8,556.5h1.0v1.0h-1.0zM89.1,556.5h1.0v1.0h-1.0zM66.0,559.8h1.0v1.0h-1.0zM69.3,559.8h1.0v1.0h-1.0zM72.6,559.8h1.0v1.0h-1.0zM75.9,559.8h1.0v1.0h-1.0zM79.2,559.8h1.0v1.0h-1.0zM82.5,559.8h1.0v1.0h-1.0zM85.8,559.8h1.0v1.0h-1.0zM89.1,559.8h1.0v1.0h-1.0zM66.0,563.1h1.0v1.0h-1.0zM69.3,563.1h1.0v1.0h-1.0zM72.6,563.1h1.0v1.0h-1.0zM75.9,563.1h1.0v1.0h-1.0zM79.2,563.1h1.0v1.0h-1.0zM82.5,563.1h1.0v1.0h-1.0zM85.8,563.1h1.0v1.0h-1.0zM89.1,563.1h1.0v1.0h-1.0zM66.0,566.4h1.0v1.0h-1.0zM69.3,566.4h1.0v1.0h-1.0zM72.6,566.4h1.0v1.0h-1.0zM75.9,566.4h1.0v1.0h-1.0zM79.2,566.4h1.0v1.0h-1.0zM82.5,566.4h1.0v1.0h-1.0zM85.8,566.4h1.0v1.0h-1.0zM89.1,566.4h1.0v1.0h-1.0zM66.0,569.7h1.0v1.0h-1.0zM69.3,569.7h1.0v1.0h-1.0zM72.6,569.7h1.0v1.0h-1.0zM75.9,569.7h1.0v1.0h-1.0zM79.2,569.7h1.0v1.0h-1.0zM82.5,569.7h1.0v1.0h-1.0zM85.8,569.7h1.0v1.0h-1.0zM89.1,569.7h1.0v1.0h-1.0z" fill="#000"/>
<path d="M63.80,572.40 L63.80,422.30 L90.80,422.30 L90.80,572.40" fill="none" stroke="#000" stroke-width="2.8" stroke-linejoin="round"/>
<line x1="77.30" y1="572.40" x2="77.30" y2="577.70" stroke="#000" stroke-width="2.1" stroke-linecap="butt"/>
<text x="82.30" y="589.40" font-size="12.7" font-weight="bold" text-anchor="end" font-family='"Liberation Sans", sans-serif' transform="rotate(-45 82.30 589.40)" >C</text>
<line x1="118.80" y1="532.40" x2="118.80" y2="530.05" stroke="#000" stroke-width="3.0"/>
<line x1="111.95" y1="530.05" x2="125.65" y2="530.05" stroke="#000" stroke-width="2.9" stroke-linecap="round"/>
<rect x="105.30" y="532.80" width="27.00" height="39.60" fill="#fff"/>
<path d="M105.30,572.40 L105.30,532.80 L132.30,532.80 L132.30,572.40" fill="none" stroke="#000" stroke-width="2.8" stroke-linejoin="round"/>
<line x1="118.80" y1="572.40" x2="118.80" y2="577.70" stroke="#000" stroke-width="2.1" stroke-linecap="butt"/>
<text x="123.80" y="589.40" font-size="12.7" font-weight="bold" text-anchor="end" font-family='"Liberation Sans", sans-serif' transform="rotate(-45 123.80 589.40)" >Neo</text>
<line x1="160.30" y1="501.40" x2="160.30" y2="492.85" stroke="#000" stroke-width="3.0"/>
<line x1="153.45" y1="492.85" x2="167.15" y2="492.85" stroke="#000" stroke-width="2.9" stroke-linecap="round"/>
<rect x="146.80" y="501.80" width="27.00" height="70.60" fill="#000"/>
<path d="M146.80,572.40 L146.80,501.80 L173.80,501.80 L173.80,572.40" fill="none" stroke="#000" stroke-width="2.8" stroke-linejoin="round"/>
<line x1="160.30" y1="572.40" x2="160.30" y2="577.70" stroke="#000" stroke-width="2.1" stroke-linecap="butt"/>
<text x="165.30" y="589.40" font-size="12.7" font-weight="bold" text-anchor="end" font-family='"Liberation Sans", sans-serif' transform="rotate(-45 165.30 589.40)" >Diclo</text>
<line x1="201.80" y1="507.20" x2="201.80" y2="503.45" stroke="#000" stroke-width="3.0"/>
<line x1="194.95" y1="503.45" x2="208.65" y2="503.45" stroke="#000" stroke-width="2.9" stroke-linecap="round"/>
<rect x="188.30" y="507.60" width="27.00" height="64.80" fill="#5f5f5f"/>
<path d="M188.30,572.40 L188.30,507.60 L215.30,507.60 L215.30,572.40" fill="none" stroke="#000" stroke-width="2.8" stroke-linejoin="round"/>
<line x1="201.80" y1="572.40" x2="201.80" y2="577.70" stroke="#000" stroke-width="2.1" stroke-linecap="butt"/>
<text x="206.80" y="589.40" font-size="12.7" font-weight="bold" text-anchor="end" font-family='"Liberation Sans", sans-serif' transform="rotate(-45 206.80 589.40)" >Cele</text>
<line x1="243.20" y1="539.10" x2="243.20" y2="534.85" stroke="#000" stroke-width="3.0"/>
<line x1="236.35" y1="534.85" x2="250.05" y2="534.85" stroke="#000" stroke-width="2.9" stroke-linecap="round"/>
<clipPath id="c1"><rect x="229.30" y="539.10" width="27.80" height="33.30"/></clipPath>
<rect x="229.30" y="539.10" width="27.80" height="33.30" fill="#fff"/>
<path clip-path="url(#c1)" d="M130.00,572.40 L163.30,539.10 M133.30,572.40 L166.60,539.10 M136.60,572.40 L169.90,539.10 M139.90,572.40 L173.20,539.10 M143.20,572.40 L176.50,539.10 M146.50,572.40 L179.80,539.10 M149.80,572.40 L183.10,539.10 M153.10,572.40 L186.40,539.10 M156.40,572.40 L189.70,539.10 M159.70,572.40 L193.00,539.10 M163.00,572.40 L196.30,539.10 M166.30,572.40 L199.60,539.10 M169.60,572.40 L202.90,539.10 M172.90,572.40 L206.20,539.10 M176.20,572.40 L209.50,539.10 M179.50,572.40 L212.80,539.10 M182.80,572.40 L216.10,539.10 M186.10,572.40 L219.40,539.10 M189.40,572.40 L222.70,539.10 M192.70,572.40 L226.00,539.10 M196.00,572.40 L229.30,539.10 M199.30,572.40 L232.60,539.10 M202.60,572.40 L235.90,539.10 M205.90,572.40 L239.20,539.10 M209.20,572.40 L242.50,539.10 M212.50,572.40 L245.80,539.10 M215.80,572.40 L249.10,539.10 M219.10,572.40 L252.40,539.10 M222.40,572.40 L255.70,539.10 M225.70,572.40 L259.00,539.10 M229.00,572.40 L262.30,539.10 M232.30,572.40 L265.60,539.10 M235.60,572.40 L268.90,539.10 M238.90,572.40 L272.20,539.10 M242.20,572.40 L275.50,539.10 M245.50,572.40 L278.80,539.10 M248.80,572.40 L282.10,539.10 M252.10,572.40 L285.40,539.10 M255.40,572.40 L288.70,539.10 M258.70,572.40 L292.00,539.10" stroke="#000" stroke-width="1.05" fill="none"/>
<path d="M229.70,572.40 L229.70,539.50 L256.70,539.50 L256.70,572.40" fill="none" stroke="#000" stroke-width="2.8" stroke-linejoin="round"/>
<line x1="243.20" y1="572.40" x2="243.20" y2="577.70" stroke="#000" stroke-width="2.1" stroke-linecap="butt"/>
<text x="248.20" y="589.40" font-size="12.7" font-weight="bold" text-anchor="end" font-family='"Liberation Sans", sans-serif' transform="rotate(-45 248.20 589.40)" >Neo+Diclo</text>
<line x1="284.90" y1="542.80" x2="284.90" y2="538.65" stroke="#000" stroke-width="3.0"/>
<line x1="278.05" y1="538.65" x2="291.75" y2="538.65" stroke="#000" stroke-width="2.9" stroke-linecap="round"/>
<clipPath id="c2"><rect x="271.00" y="542.80" width="27.80" height="29.60"/></clipPath>
<rect x="271.00" y="542.80" width="27.80" height="29.60" fill="#fff"/>
<path clip-path="url(#c2)" d="M269.10,540.90h3.50v3.50h-3.50zM276.10,540.90h3.50v3.50h-3.50zM283.10,540.90h3.50v3.50h-3.50zM290.10,540.90h3.50v3.50h-3.50zM297.10,540.90h3.50v3.50h-3.50zM304.10,540.90h3.50v3.50h-3.50zM272.60,544.40h3.50v3.50h-3.50zM279.60,544.40h3.50v3.50h-3.50zM286.60,544.40h3.50v3.50h-3.50zM293.60,544.40h3.50v3.50h-3.50zM300.60,544.40h3.50v3.50h-3.50zM269.10,547.90h3.50v3.50h-3.50zM276.10,547.90h3.50v3.50h-3.50zM283.10,547.90h3.50v3.50h-3.50zM290.10,547.90h3.50v3.50h-3.50zM297.10,547.90h3.50v3.50h-3.50zM304.10,547.90h3.50v3.50h-3.50zM272.60,551.40h3.50v3.50h-3.50zM279.60,551.40h3.50v3.50h-3.50zM286.60,551.40h3.50v3.50h-3.50zM293.60,551.40h3.50v3.50h-3.50zM300.60,551.40h3.50v3.50h-3.50zM269.10,554.90h3.50v3.50h-3.50zM276.10,554.90h3.50v3.50h-3.50zM283.10,554.90h3.50v3.50h-3.50zM290.10,554.90h3.50v3.50h-3.50zM297.10,554.90h3.50v3.50h-3.50zM304.10,554.90h3.50v3.50h-3.50zM272.60,558.40h3.50v3.50h-3.50zM279.60,558.40h3.50v3.50h-3.50zM286.60,558.40h3.50v3.50h-3.50zM293.60,558.40h3.50v3.50h-3.50zM300.60,558.40h3.50v3.50h-3.50zM269.10,561.90h3.50v3.50h-3.50zM276.10,561.90h3.50v3.50h-3.50zM283.10,561.90h3.50v3.50h-3.50zM290.10,561.90h3.50v3.50h-3.50zM297.10,561.90h3.50v3.50h-3.50zM304.10,561.90h3.50v3.50h-3.50zM272.60,565.40h3.50v3.50h-3.50zM279.60,565.40h3.50v3.50h-3.50zM286.60,565.40h3.50v3.50h-3.50zM293.60,565.40h3.50v3.50h-3.50zM300.60,565.40h3.50v3.50h-3.50zM269.10,568.90h3.50v3.50h-3.50zM276.10,568.90h3.50v3.50h-3.50zM283.10,568.90h3.50v3.50h-3.50zM290.10,568.90h3.50v3.50h-3.50zM297.10,568.90h3.50v3.50h-3.50zM304.10,568.90h3.50v3.50h-3.50zM272.60,572.40h3.50v3.50h-3.50zM279.60,572.40h3.50v3.50h-3.50zM286.60,572.40h3.50v3.50h-3.50zM293.60,572.40h3.50v3.50h-3.50zM300.60,572.40h3.50v3.50h-3.50zM269.10,575.90h3.50v3.50h-3.50zM276.10,575.90h3.50v3.50h-3.50zM283.10,575.90h3.50v3.50h-3.50zM290.10,575.90h3.50v3.50h-3.50zM297.10,575.90h3.50v3.50h-3.50zM304.10,575.90h3.50v3.50h-3.50zM272.60,579.40h3.50v3.50h-3.50zM279.60,579.40h3.50v3.50h-3.50zM286.60,579.40h3.50v3.50h-3.50zM293.60,579.40h3.50v3.50h-3.50zM300.60,579.40h3.50v3.50h-3.50z" fill="#000"/>
<path d="M271.40,572.40 L271.40,543.20 L298.40,543.20 L298.40,572.40" fill="none" stroke="#000" stroke-width="2.8" stroke-linejoin="round"/>
<line x1="284.90" y1="572.40" x2="284.90" y2="577.70" stroke="#000" stroke-width="2.1" stroke-linecap="butt"/>
<text x="289.90" y="589.40" font-size="12.7" font-weight="bold" text-anchor="end" font-family='"Liberation Sans", sans-serif' transform="rotate(-45 289.90 589.40)" >Neo+Cele</text>
<line x1="55.50" y1="572.40" x2="306.40" y2="572.40" stroke="#000" stroke-width="2.2" stroke-linecap="butt"/>
<text x="118.50" y="525.50" font-size="18.8" font-weight="normal" text-anchor="middle" font-family='"Liberation Sans", sans-serif' stroke="#000" stroke-width="0.45">*</text>
<text x="151.50" y="484.50" font-size="18.8" font-weight="normal" text-anchor="middle" font-family='"Liberation Sans", sans-serif' stroke="#000" stroke-width="0.45">*</text>
<text x="165.00" y="476.80" font-size="13" font-weight="normal" text-anchor="middle" font-family='"Liberation Sans", sans-serif' stroke="#000" stroke-width="0.45">@</text>
<text x="196.40" y="497.40" font-size="18.8" font-weight="normal" text-anchor="middle" font-family='"Liberation Sans", sans-serif' stroke="#000" stroke-width="0.45">*</text>
<text x="208.80" y="491.80" font-size="13" font-weight="normal" text-anchor="middle" font-family='"Liberation Sans", sans-serif' stroke="#000" stroke-width="0.45">@</text>
<text x="239.90" y="508.40" font-size="13.5" font-weight="normal" text-anchor="middle" font-family='"Liberation Serif", serif' stroke="#000" stroke-width="0.5">ε</text>
<text x="234.90" y="527.40" font-size="18.8" font-weight="normal" text-anchor="middle" font-family='"Liberation Sans", sans-serif' stroke="#000" stroke-width="0.45">*</text>
<text x="246.80" y="519.00" font-size="13.0" font-weight="normal" text-anchor="middle" font-family='"Liberation Serif", serif' stroke="#000" stroke-width="0.25">μ</text>
<text x="282.40" y="508.00" font-size="13.5" font-weight="normal" text-anchor="middle" font-family='"Liberation Serif", serif' stroke="#000" stroke-width="0.5">ε</text>
<text x="276.90" y="527.40" font-size="18.8" font-weight="normal" text-anchor="middle" font-family='"Liberation Sans", sans-serif' stroke="#000" stroke-width="0.45">*</text>
<text x="285.00" y="521.30" font-size="13.0" font-weight="normal" text-anchor="middle" font-family='"Liberation Serif", serif' stroke="#000" stroke-width="0.25">μ</text>
<line x1="57.30" y1="652.40" x2="57.30" y2="821.60" stroke="#000" stroke-width="2.2" stroke-linecap="butt"/>
<line x1="56.20" y1="820.60" x2="307.00" y2="820.60" stroke="#000" stroke-width="2.2" stroke-linecap="butt"/>
<line x1="51.60" y1="820.60" x2="57.30" y2="820.60" stroke="#000" stroke-width="2.2" stroke-linecap="butt"/>
<text x="51.00" y="825.20" font-size="12.4" font-weight="bold" text-anchor="end" font-family='"Liberation Sans", sans-serif' textLength="6.50" lengthAdjust="spacingAndGlyphs" >0</text>
<line x1="51.60" y1="787.24" x2="57.30" y2="787.24" stroke="#000" stroke-width="2.2" stroke-linecap="butt"/>
<text x="51.00" y="791.84" font-size="12.4" font-weight="bold" text-anchor="end" font-family='"Liberation Sans", sans-serif' textLength="13.00" lengthAdjust="spacingAndGlyphs" >20</text>
<line x1="51.60" y1="753.88" x2="57.30" y2="753.88" stroke="#000" stroke-width="2.2" stroke-linecap="butt"/>
<text x="51.00" y="758.48" font-size="12.4" font-weight="bold" text-anchor="end" font-family='"Liberation Sans", sans-serif' textLength="13.00" lengthAdjust="spacingAndGlyphs" >40</text>
<line x1="51.60" y1="720.52" x2="57.30" y2="720.52" stroke="#000" stroke-width="2.2" stroke-linecap="butt"/>
<text x="51.00" y="725.12" font-size="12.4" font-weight="bold" text-anchor="end" font-family='"Liberation Sans", sans-serif' textLength="13.00" lengthAdjust="spacingAndGlyphs" >60</text>
<line x1="51.60" y1="687.16" x2="57.30" y2="687.16" stroke="#000" stroke-width="2.2" stroke-linecap="butt"/>
<text x="51.00" y="691.76" font-size="12.4" font-weight="bold" text-anchor="end" font-family='"Liberation Sans", sans-serif' textLength="13.00" lengthAdjust="spacingAndGlyphs" >80</text>
<line x1="51.60" y1="653.80" x2="57.30" y2="653.80" stroke="#000" stroke-width="2.2" stroke-linecap="butt"/>
<text x="51.00" y="658.40" font-size="12.4" font-weight="bold" text-anchor="end" font-family='"Liberation Sans", sans-serif' textLength="19.50" lengthAdjust="spacingAndGlyphs" >100</text>
<text x="18.20" y="804.00" font-size="12.7" font-weight="bold" text-anchor="start" font-family='"Liberation Sans", sans-serif' transform="rotate(-90 18.20 804.00)" textLength="132.00" lengthAdjust="spacingAndGlyphs" >writhing % inhibition</text>
<line x1="82.00" y1="698.20" x2="82.00" y2="694.65" stroke="#000" stroke-width="3.0"/>
<line x1="74.05" y1="694.65" x2="89.95" y2="694.65" stroke="#000" stroke-width="2.9" stroke-linecap="round"/>
<rect x="65.50" y="698.70" width="33.00" height="121.90" fill="#fff"/>
<path d="M65.50,820.60 L65.50,698.70 L98.50,698.70 L98.50,820.60" fill="none" stroke="#000" stroke-width="3.0" stroke-linejoin="round"/>
<line x1="82.00" y1="820.60" x2="82.00" y2="826.00" stroke="#000" stroke-width="2.1" stroke-linecap="butt"/>
<text x="87.00" y="838.20" font-size="12.7" font-weight="bold" text-anchor="end" font-family='"Liberation Sans", sans-serif' transform="rotate(-45 87.00 838.20)" >Neo</text>
<line x1="132.00" y1="737.30" x2="132.00" y2="724.75" stroke="#000" stroke-width="3.0"/>
<line x1="124.05" y1="724.75" x2="139.95" y2="724.75" stroke="#000" stroke-width="2.9" stroke-linecap="round"/>
<rect x="115.50" y="737.80" width="33.00" height="82.80" fill="#000"/>
<path d="M115.50,820.60 L115.50,737.80 L148.50,737.80 L148.50,820.60" fill="none" stroke="#000" stroke-width="3.0" stroke-linejoin="round"/>
<line x1="132.00" y1="820.60" x2="132.00" y2="826.00" stroke="#000" stroke-width="2.1" stroke-linecap="butt"/>
<text x="137.00" y="838.20" font-size="12.7" font-weight="bold" text-anchor="end" font-family='"Liberation Sans", sans-serif' transform="rotate(-45 137.00 838.20)" >Diclo</text>
<line x1="181.80" y1="726.30" x2="181.80" y2="722.45" stroke="#000" stroke-width="3.0"/>
<line x1="173.85" y1="722.45" x2="189.75" y2="722.45" stroke="#000" stroke-width="2.9" stroke-linecap="round"/>
<rect x="165.30" y="726.80" width="33.00" height="93.80" fill="#5f5f5f"/>
<path d="M165.30,820.60 L165.30,726.80 L198.30,726.80 L198.30,820.60" fill="none" stroke="#000" stroke-width="3.0" stroke-linejoin="round"/>
<line x1="181.80" y1="820.60" x2="181.80" y2="826.00" stroke="#000" stroke-width="2.1" stroke-linecap="butt"/>
<text x="186.80" y="838.20" font-size="12.7" font-weight="bold" text-anchor="end" font-family='"Liberation Sans", sans-serif' transform="rotate(-45 186.80 838.20)" >Cele</text>
<line x1="231.60" y1="691.00" x2="231.60" y2="684.65" stroke="#000" stroke-width="3.0"/>
<line x1="223.65" y1="684.65" x2="239.55" y2="684.65" stroke="#000" stroke-width="2.9" stroke-linecap="round"/>
<clipPath id="c3"><rect x="214.60" y="691.00" width="34.00" height="129.60"/></clipPath>
<rect x="214.60" y="691.00" width="34.00" height="129.60" fill="#fff"/>
<path clip-path="url(#c3)" d="M-84.65,691.00 L44.95,820.60 M-80.88,691.00 L48.72,820.60 M-77.11,691.00 L52.49,820.60 M-73.34,691.00 L56.26,820.60 M-69.57,691.00 L60.03,820.60 M-65.80,691.00 L63.80,820.60 M-62.03,691.00 L67.57,820.60 M-58.26,691.00 L71.34,820.60 M-54.49,691.00 L75.11,820.60 M-50.72,691.00 L78.88,820.60 M-46.95,691.00 L82.65,820.60 M-43.18,691.00 L86.42,820.60 M-39.41,691.00 L90.19,820.60 M-35.64,691.00 L93.96,820.60 M-31.87,691.00 L97.73,820.60 M-28.10,691.00 L101.50,820.60 M-24.33,691.00 L105.27,820.60 M-20.56,691.00 L109.04,820.60 M-16.79,691.00 L112.81,820.60 M-13.02,691.00 L116.58,820.60 M-9.25,691.00 L120.35,820.60 M-5.48,691.00 L124.12,820.60 M-1.71,691.00 L127.89,820.60 M2.06,691.00 L131.66,820.60 M5.83,691.00 L135.43,820.60 M9.60,691.00 L139.20,820.60 M13.37,691.00 L142.97,820.60 M17.14,691.00 L146.74,820.60 M20.91,691.00 L150.51,820.60 M24.68,691.00 L154.28,820.60 M28.45,691.00 L158.05,820.60 M32.22,691.00 L161.82,820.60 M35.99,691.00 L165.59,820.60 M39.76,691.00 L169.36,820.60 M43.53,691.00 L173.13,820.60 M47.30,691.00 L176.90,820.60 M51.07,691.00 L180.67,820.60 M54.84,691.00 L184.44,820.60 M58.61,691.00 L188.21,820.60 M62.38,691.00 L191.98,820.60 M66.15,691.00 L195.75,820.60 M69.92,691.00 L199.52,820.60 M73.69,691.00 L203.29,820.60 M77.46,691.00 L207.06,820.60 M81.23,691.00 L210.83,820.60 M85.00,691.00 L214.60,820.60 M88.77,691.00 L218.37,820.60 M92.54,691.00 L222.14,820.60 M96.31,691.00 L225.91,820.60 M100.08,691.00 L229.68,820.60 M103.85,691.00 L233.45,820.60 M107.62,691.00 L237.22,820.60 M111.39,691.00 L240.99,820.60 M115.16,691.00 L244.76,820.60 M118.93,691.00 L248.53,820.60 M122.70,691.00 L252.30,820.60 M126.47,691.00 L256.07,820.60 M130.24,691.00 L259.84,820.60 M134.01,691.00 L263.61,820.60 M137.78,691.00 L267.38,820.60 M141.55,691.00 L271.15,820.60 M145.32,691.00 L274.92,820.60 M149.09,691.00 L278.69,820.60 M152.86,691.00 L282.46,820.60 M156.63,691.00 L286.23,820.60 M160.40,691.00 L290.00,820.60 M164.17,691.00 L293.77,820.60 M167.94,691.00 L297.54,820.60 M171.71,691.00 L301.31,820.60 M175.48,691.00 L305.08,820.60 M179.25,691.00 L308.85,820.60 M183.02,691.00 L312.62,820.60 M186.79,691.00 L316.39,820.60 M190.56,691.00 L320.16,820.60 M194.33,691.00 L323.93,820.60 M198.10,691.00 L327.70,820.60 M201.87,691.00 L331.47,820.60 M205.64,691.00 L335.24,820.60 M209.41,691.00 L339.01,820.60 M213.18,691.00 L342.78,820.60 M216.95,691.00 L346.55,820.60 M220.72,691.00 L350.32,820.60 M224.49,691.00 L354.09,820.60 M228.26,691.00 L357.86,820.60 M232.03,691.00 L361.63,820.60 M235.80,691.00 L365.40,820.60 M239.57,691.00 L369.17,820.60 M243.34,691.00 L372.94,820.60 M247.11,691.00 L376.71,820.60 M250.88,691.00 L380.48,820.60" stroke="#000" stroke-width="1.2" fill="none"/>
<path d="M215.10,820.60 L215.10,691.50 L248.10,691.50 L248.10,820.60" fill="none" stroke="#000" stroke-width="3.0" stroke-linejoin="round"/>
<line x1="231.60" y1="820.60" x2="231.60" y2="826.00" stroke="#000" stroke-width="2.1" stroke-linecap="butt"/>
<text x="236.60" y="838.20" font-size="12.7" font-weight="bold" text-anchor="end" font-family='"Liberation Sans", sans-serif' transform="rotate(-45 236.60 838.20)" >Neo+Diclo</text>
<line x1="281.40" y1="686.90" x2="281.40" y2="681.35" stroke="#000" stroke-width="3.0"/>
<line x1="273.45" y1="681.35" x2="289.35" y2="681.35" stroke="#000" stroke-width="2.9" stroke-linecap="round"/>
<clipPath id="c4"><rect x="264.40" y="686.90" width="34.00" height="133.70"/></clipPath>
<rect x="264.40" y="686.90" width="34.00" height="133.70" fill="#fff"/>
<path clip-path="url(#c4)" d="M262.85,685.35h3.35v3.35h-3.35zM269.55,685.35h3.35v3.35h-3.35zM276.25,685.35h3.35v3.35h-3.35zM282.95,685.35h3.35v3.35h-3.35zM289.65,685.35h3.35v3.35h-3.35zM296.35,685.35h3.35v3.35h-3.35zM303.05,685.35h3.35v3.35h-3.35zM266.20,688.70h3.35v3.35h-3.35zM272.90,688.70h3.35v3.35h-3.35zM279.60,688.70h3.35v3.35h-3.35zM286.30,688.70h3.35v3.35h-3.35zM293.00,688.70h3.35v3.35h-3.35zM299.70,688.70h3.35v3.35h-3.35zM306.40,688.70h3.35v3.35h-3.35zM262.85,692.05h3.35v3.35h-3.35zM269.55,692.05h3.35v3.35h-3.35zM276.25,692.05h3.35v3.35h-3.35zM282.95,692.05h3.35v3.35h-3.35zM289.65,692.05h3.35v3.35h-3.35zM296.35,692.05h3.35v3.35h-3.35zM303.05,692.05h3.35v3.35h-3.35zM266.20,695.40h3.35v3.35h-3.35zM272.90,695.40h3.35v3.35h-3.35zM279.60,695.40h3.35v3.35h-3.35zM286.30,695.40h3.35v3.35h-3.35zM293.00,695.40h3.35v3.35h-3.35zM299.70,695.40h3.35v3.35h-3.35zM306.40,695.40h3.35v3.35h-3.35zM262.85,698.75h3.35v3.35h-3.35zM269.55,698.75h3.35v3.35h-3.35zM276.25,698.75h3.35v3.35h-3.35zM282.95,698.75h3.35v3.35h-3.35zM289.65,698.75h3.35v3.35h-3.35zM296.35,698.75h3.35v3.35h-3.35zM303.05,698.75h3.35v3.35h-3.35zM266.20,702.10h3.35v3.35h-3.35zM272.90,702.10h3.35v3.35h-3.35zM279.60,702.10h3.35v3.35h-3.35zM286.30,702.10h3.35v3.35h-3.35zM293.00,702.10h3.35v3.35h-3.35zM299.70,702.10h3.35v3.35h-3.35zM306.40,702.10h3.35v3.35h-3.35zM262.85,705.45h3.35v3.35h-3.35zM269.55,705.45h3.35v3.35h-3.35zM276.25,705.45h3.35v3.35h-3.35zM282.95,705.45h3.35v3.35h-3.35zM289.65,705.45h3.35v3.35h-3.35zM296.35,705.45h3.35v3.35h-3.35zM303.05,705.45h3.35v3.35h-3.35zM266.20,708.80h3.35v3.35h-3.35zM272.90,708.80h3.35v3.35h-3.35zM279.60,708.80h3.35v3.35h-3.35zM286.30,708.80h3.35v3.35h-3.35zM293.00,708.80h3.35v3.35h-3.35zM299.70,708.80h3.35v3.35h-3.35zM306.40,708.80h3.35v3.35h-3.35zM262.85,712.15h3.35v3.35h-3.35zM269.55,712.15h3.35v3.35h-3.35zM276.25,712.15h3.35v3.35h-3.35zM282.95,712.15h3.35v3.35h-3.35zM289.65,712.15h3.35v3.35h-3.35zM296.35,712.15h3.35v3.35h-3.35zM303.05,712.15h3.35v3.35h-3.35zM266.20,715.50h3.35v3.35h-3.35zM272.90,715.50h3.35v3.35h-3.35zM279.60,715.50h3.35v3.35h-3.35zM286.30,715.50h3.35v3.35h-3.35zM293.00,715.50h3.35v3.35h-3.35zM299.70,715.50h3.35v3.35h-3.35zM306.40,715.50h3.35v3.35h-3.35zM262.85,718.85h3.35v3.35h-3.35zM269.55,718.85h3.35v3.35h-3.35zM276.25,718.85h3.35v3.35h-3.35zM282.95,718.85h3.35v3.35h-3.35zM289.65,718.85h3.35v3.35h-3.35zM296.35,718.85h3.35v3.35h-3.35zM303.05,718.85h3.35v3.35h-3.35zM266.20,722.20h3.35v3.35h-3.35zM272.90,722.20h3.35v3.35h-3.35zM279.60,722.20h3.35v3.35h-3.35zM286.30,722.20h3.35v3.35h-3.35zM293.00,722.20h3.35v3.35h-3.35zM299.70,722.20h3.35v3.35h-3.35zM306.40,722.20h3.35v3.35h-3.35zM262.85,725.55h3.35v3.35h-3.35zM269.55,725.55h3.35v3.35h-3.35zM276.25,725.55h3.35v3.35h-3.35zM282.95,725.55h3.35v3.35h-3.35zM289.65,725.55h3.35v3.35h-3.35zM296.35,725.55h3.35v3.35h-3.35zM303.05,725.55h3.35v3.35h-3.35zM266.20,728.90h3.35v3.35h-3.35zM272.90,728.90h3.35v3.35h-3.35zM279.60,728.90h3.35v3.35h-3.35zM286.30,728.90h3.35v3.35h-3.35zM293.00,728.90h3.35v3.35h-3.35zM299.70,728.90h3.35v3.35h-3.35zM306.40,728.90h3.35v3.35h-3.35zM262.85,732.25h3.35v3.35h-3.35zM269.55,732.25h3.35v3.35h-3.35zM276.25,732.25h3.35v3.35h-3.35zM282.95,732.25h3.35v3.35h-3.35zM289.65,732.25h3.35v3.35h-3.35zM296.35,732.25h3.35v3.35h-3.35zM303.05,732.25h3.35v3.35h-3.35zM266.20,735.60h3.35v3.35h-3.35zM272.90,735.60h3.35v3.35h-3.35zM279.60,735.60h3.35v3.35h-3.35zM286.30,735.60h3.35v3.35h-3.35zM293.00,735.60h3.35v3.35h-3.35zM299.70,735.60h3.35v3.35h-3.35zM306.40,735.60h3.35v3.35h-3.35zM262.85,738.95h3.35v3.35h-3.35zM269.55,738.95h3.35v3.35h-3.35zM276.25,738.95h3.35v3.35h-3.35zM282.95,738.95h3.35v3.35h-3.35zM289.65,738.95h3.35v3.35h-3.35zM296.35,738.95h3.35v3.35h-3.35zM303.05,738.95h3.35v3.35h-3.35zM266.20,742.30h3.35v3.35h-3.35zM272.90,742.30h3.35v3.35h-3.35zM279.60,742.30h3.35v3.35h-3.35zM286.30,742.30h3.35v3.35h-3.35zM293.00,742.30h3.35v3.35h-3.35zM299.70,742.30h3.35v3.35h-3.35zM306.40,742.30h3.35v3.35h-3.35zM262.85,745.65h3.35v3.35h-3.35zM269.55,745.65h3.35v3.35h-3.35zM276.25,745.65h3.35v3.35h-3.35zM282.95,745.65h3.35v3.35h-3.35zM289.65,745.65h3.35v3.35h-3.35zM296.35,745.65h3.35v3.35h-3.35zM303.05,745.65h3.35v3.35h-3.35zM266.20,749.00h3.35v3.35h-3.35zM272.90,749.00h3.35v3.35h-3.35zM279.60,749.00h3.35v3.35h-3.35zM286.30,749.00h3.35v3.35h-3.35zM293.00,749.00h3.35v3.35h-3.35zM299.70,749.00h3.35v3.35h-3.35zM306.40,749.00h3.35v3.35h-3.35zM262.85,752.35h3.35v3.35h-3.35zM269.55,752.35h3.35v3.35h-3.35zM276.25,752.35h3.35v3.35h-3.35zM282.95,752.35h3.35v3.35h-3.35zM289.65,752.35h3.35v3.35h-3.35zM296.35,752.35h3.35v3.35h-3.35zM303.05,752.35h3.35v3.35h-3.35zM266.20,755.70h3.35v3.35h-3.35zM272.90,755.70h3.35v3.35h-3.35zM279.60,755.70h3.35v3.35h-3.35zM286.30,755.70h3.35v3.35h-3.35zM293.00,755.70h3.35v3.35h-3.35zM299.70,755.70h3.35v3.35h-3.35zM306.40,755.70h3.35v3.35h-3.35zM262.85,759.05h3.35v3.35h-3.35zM269.55,759.05h3.35v3.35h-3.35zM276.25,759.05h3.35v3.35h-3.35zM282.95,759.05h3.35v3.35h-3.35zM289.65,759.05h3.35v3.35h-3.35zM296.35,759.05h3.35v3.35h-3.35zM303.05,759.05h3.35v3.35h-3.35zM266.20,762.40h3.35v3.35h-3.35zM272.90,762.40h3.35v3.35h-3.35zM279.60,762.40h3.35v3.35h-3.35zM286.30,762.40h3.35v3.35h-3.35zM293.00,762.40h3.35v3.35h-3.35zM299.70,762.40h3.35v3.35h-3.35zM306.40,762.40h3.35v3.35h-3.35zM262.85,765.75h3.35v3.35h-3.35zM269.55,765.75h3.35v3.35h-3.35zM276.25,765.75h3.35v3.35h-3.35zM282.95,765.75h3.35v3.35h-3.35zM289.65,765.75h3.35v3.35h-3.35zM296.35,765.75h3.35v3.35h-3.35zM303.05,765.75h3.35v3.35h-3.35zM266.20,769.10h3.35v3.35h-3.35zM272.90,769.10h3.35v3.35h-3.35zM279.60,769.10h3.35v3.35h-3.35zM286.30,769.10h3.35v3.35h-3.35zM293.00,769.10h3.35v3.35h-3.35zM299.70,769.10h3.35v3.35h-3.35zM306.40,769.10h3.35v3.35h-3.35zM262.85,772.45h3.35v3.35h-3.35zM269.55,772.45h3.35v3.35h-3.35zM276.25,772.45h3.35v3.35h-3.35zM282.95,772.45h3.35v3.35h-3.35zM289.65,772.45h3.35v3.35h-3.35zM296.35,772.45h3.35v3.35h-3.35zM303.05,772.45h3.35v3.35h-3.35zM266.20,775.80h3.35v3.35h-3.35zM272.90,775.80h3.35v3.35h-3.35zM279.60,775.80h3.35v3.35h-3.35zM286.30,775.80h3.35v3.35h-3.35zM293.00,775.80h3.35v3.35h-3.35zM299.70,775.80h3.35v3.35h-3.35zM306.40,775.80h3.35v3.35h-3.35zM262.85,779.15h3.35v3.35h-3.35zM269.55,779.15h3.35v3.35h-3.35zM276.25,779.15h3.35v3.35h-3.35zM282.95,779.15h3.35v3.35h-3.35zM289.65,779.15h3.35v3.35h-3.35zM296.35,779.15h3.35v3.35h-3.35zM303.05,779.15h3.35v3.35h-3.35zM266.20,782.50h3.35v3.35h-3.35zM272.90,782.50h3.35v3.35h-3.35zM279.60,782.50h3.35v3.35h-3.35zM286.30,782.50h3.35v3.35h-3.35zM293.00,782.50h3.35v3.35h-3.35zM299.70,782.50h3.35v3.35h-3.35zM306.40,782.50h3.35v3.35h-3.35zM262.85,785.85h3.35v3.35h-3.35zM269.55,785.85h3.35v3.35h-3.35zM276.25,785.85h3.35v3.35h-3.35zM282.95,785.85h3.35v3.35h-3.35zM289.65,785.85h3.35v3.35h-3.35zM296.35,785.85h3.35v3.35h-3.35zM303.05,785.85h3.35v3.35h-3.35zM266.20,789.20h3.35v3.35h-3.35zM272.90,789.20h3.35v3.35h-3.35zM279.60,789.20h3.35v3.35h-3.35zM286.30,789.20h3.35v3.35h-3.35zM293.00,789.20h3.35v3.35h-3.35zM299.70,789.20h3.35v3.35h-3.35zM306.40,789.20h3.35v3.35h-3.35zM262.85,792.55h3.35v3.35h-3.35zM269.55,792.55h3.35v3.35h-3.35zM276.25,792.55h3.35v3.35h-3.35zM282.95,792.55h3.35v3.35h-3.35zM289.65,792.55h3.35v3.35h-3.35zM296.35,792.55h3.35v3.35h-3.35zM303.05,792.55h3.35v3.35h-3.35zM266.20,795.90h3.35v3.35h-3.35zM272.90,795.90h3.35v3.35h-3.35zM279.60,795.90h3.35v3.35h-3.35zM286.30,795.90h3.35v3.35h-3.35zM293.00,795.90h3.35v3.35h-3.35zM299.70,795.90h3.35v3.35h-3.35zM306.40,795.90h3.35v3.35h-3.35zM262.85,799.25h3.35v3.35h-3.35zM269.55,799.25h3.35v3.35h-3.35zM276.25,799.25h3.35v3.35h-3.35zM282.95,799.25h3.35v3.35h-3.35zM289.65,799.25h3.35v3.35h-3.35zM296.35,799.25h3.35v3.35h-3.35zM303.05,799.25h3.35v3.35h-3.35zM266.20,802.60h3.35v3.35h-3.35zM272.90,802.60h3.35v3.35h-3.35zM279.60,802.60h3.35v3.35h-3.35zM286.30,802.60h3.35v3.35h-3.35zM293.00,802.60h3.35v3.35h-3.35zM299.70,802.60h3.35v3.35h-3.35zM306.40,802.60h3.35v3.35h-3.35zM262.85,805.95h3.35v3.35h-3.35zM269.55,805.95h3.35v3.35h-3.35zM276.25,805.95h3.35v3.35h-3.35zM282.95,805.95h3.35v3.35h-3.35zM289.65,805.95h3.35v3.35h-3.35zM296.35,805.95h3.35v3.35h-3.35zM303.05,805.95h3.35v3.35h-3.35zM266.20,809.30h3.35v3.35h-3.35zM272.90,809.30h3.35v3.35h-3.35zM279.60,809.30h3.35v3.35h-3.35zM286.30,809.30h3.35v3.35h-3.35zM293.00,809.30h3.35v3.35h-3.35zM299.70,809.30h3.35v3.35h-3.35zM306.40,809.30h3.35v3.35h-3.35zM262.85,812.65h3.35v3.35h-3.35zM269.55,812.65h3.35v3.35h-3.35zM276.25,812.65h3.35v3.35h-3.35zM282.95,812.65h3.35v3.35h-3.35zM289.65,812.65h3.35v3.35h-3.35zM296.35,812.65h3.35v3.35h-3.35zM303.05,812.65h3.35v3.35h-3.35zM266.20,816.00h3.35v3.35h-3.35zM272.90,816.00h3.35v3.35h-3.35zM279.60,816.00h3.35v3.35h-3.35zM286.30,816.00h3.35v3.35h-3.35zM293.00,816.00h3.35v3.35h-3.35zM299.70,816.00h3.35v3.35h-3.35zM306.40,816.00h3.35v3.35h-3.35zM262.85,819.35h3.35v3.35h-3.35zM269.55,819.35h3.35v3.35h-3.35zM276.25,819.35h3.35v3.35h-3.35zM282.95,819.35h3.35v3.35h-3.35zM289.65,819.35h3.35v3.35h-3.35zM296.35,819.35h3.35v3.35h-3.35zM303.05,819.35h3.35v3.35h-3.35zM266.20,822.70h3.35v3.35h-3.35zM272.90,822.70h3.35v3.35h-3.35zM279.60,822.70h3.35v3.35h-3.35zM286.30,822.70h3.35v3.35h-3.35zM293.00,822.70h3.35v3.35h-3.35zM299.70,822.70h3.35v3.35h-3.35zM306.40,822.70h3.35v3.35h-3.35zM262.85,826.05h3.35v3.35h-3.35zM269.55,826.05h3.35v3.35h-3.35zM276.25,826.05h3.35v3.35h-3.35zM282.95,826.05h3.35v3.35h-3.35zM289.65,826.05h3.35v3.35h-3.35zM296.35,826.05h3.35v3.35h-3.35zM303.05,826.05h3.35v3.35h-3.35z" fill="#000"/>
<path d="M264.90,820.60 L264.90,687.40 L297.90,687.40 L297.90,820.60" fill="none" stroke="#000" stroke-width="3.0" stroke-linejoin="round"/>
<line x1="281.40" y1="820.60" x2="281.40" y2="826.00" stroke="#000" stroke-width="2.1" stroke-linecap="butt"/>
<text x="286.40" y="838.20" font-size="12.7" font-weight="bold" text-anchor="end" font-family='"Liberation Sans", sans-serif' transform="rotate(-45 286.40 838.20)" >Neo+Cele</text>
<line x1="56.20" y1="820.60" x2="307.00" y2="820.60" stroke="#000" stroke-width="2.2" stroke-linecap="butt"/>
<text x="132.00" y="712.00" font-size="13" font-weight="normal" text-anchor="middle" font-family='"Liberation Sans", sans-serif' stroke="#000" stroke-width="0.45">@</text>
<text x="226.60" y="673.20" font-size="13.0" font-weight="normal" text-anchor="middle" font-family='"Liberation Serif", serif' stroke="#000" stroke-width="0.25">μ</text>
<text x="237.90" y="673.20" font-size="14" font-weight="normal" text-anchor="middle" font-family='"Liberation Serif", serif' stroke="#000" stroke-width="0.5">ε</text>
<text x="276.90" y="673.20" font-size="13.0" font-weight="normal" text-anchor="middle" font-family='"Liberation Serif", serif' stroke="#000" stroke-width="0.25">μ</text>
<text x="286.60" y="673.20" font-size="14" font-weight="normal" text-anchor="middle" font-family='"Liberation Serif", serif' stroke="#000" stroke-width="0.5">ε</text>
<line x1="51.00" y1="890.90" x2="51.00" y2="1054.50" stroke="#000" stroke-width="2.2" stroke-linecap="butt"/>
<line x1="49.90" y1="1053.40" x2="298.40" y2="1053.40" stroke="#000" stroke-width="2.2" stroke-linecap="butt"/>
<line x1="45.40" y1="1053.40" x2="51.00" y2="1053.40" stroke="#000" stroke-width="2.2" stroke-linecap="butt"/>
<text x="45.00" y="1058.00" font-size="12.4" font-weight="bold" text-anchor="end" font-family='"Liberation Sans", sans-serif' textLength="6.50" lengthAdjust="spacingAndGlyphs" >0</text>
<line x1="45.40" y1="1013.05" x2="51.00" y2="1013.05" stroke="#000" stroke-width="2.2" stroke-linecap="butt"/>
<text x="45.00" y="1017.65" font-size="12.4" font-weight="bold" text-anchor="end" font-family='"Liberation Sans", sans-serif' textLength="13.00" lengthAdjust="spacingAndGlyphs" >10</text>
<line x1="45.40" y1="972.70" x2="51.00" y2="972.70" stroke="#000" stroke-width="2.2" stroke-linecap="butt"/>
<text x="45.00" y="977.30" font-size="12.4" font-weight="bold" text-anchor="end" font-family='"Liberation Sans", sans-serif' textLength="13.00" lengthAdjust="spacingAndGlyphs" >20</text>
<line x1="45.40" y1="932.35" x2="51.00" y2="932.35" stroke="#000" stroke-width="2.2" stroke-linecap="butt"/>
<text x="45.00" y="936.95" font-size="12.4" font-weight="bold" text-anchor="end" font-family='"Liberation Sans", sans-serif' textLength="13.00" lengthAdjust="spacingAndGlyphs" >30</text>
<line x1="45.40" y1="892.00" x2="51.00" y2="892.00" stroke="#000" stroke-width="2.2" stroke-linecap="butt"/>
<text x="45.00" y="896.60" font-size="12.4" font-weight="bold" text-anchor="end" font-family='"Liberation Sans", sans-serif' textLength="13.00" lengthAdjust="spacingAndGlyphs" >40</text>
<text x="20.5" y="1035.6" font-size="11.8" font-weight="bold" font-family='"Liberation Sans", sans-serif' transform="rotate(-90 20.5 1035.6)" textLength="123.6" lengthAdjust="spacingAndGlyphs"><tspan font-family='"Liberation Serif", serif' font-weight="normal" font-size="13.5" style="stroke-width:0">β</tspan>-endorphin (Pg/ml)</text>
<line x1="68.40" y1="1001.20" x2="68.40" y2="998.30" stroke="#000" stroke-width="2.6"/>
<line x1="62.70" y1="998.30" x2="74.10" y2="998.30" stroke="#000" stroke-width="2.6" stroke-linecap="round"/>
<clipPath id="c5"><rect x="56.80" y="1001.20" width="23.20" height="52.20"/></clipPath>
<rect x="56.80" y="1001.20" width="23.20" height="52.20" fill="#000"/>
<path clip-path="url(#c5)" d="M57.55,1052.80 l2.1,-2.1 M61.55,1052.80 l2.1,-2.1 M65.55,1052.80 l2.1,-2.1 M69.55,1052.80 l2.1,-2.1 M73.55,1052.80 l2.1,-2.1 M77.55,1052.80 l2.1,-2.1 M57.55,1049.30 l2.1,-2.1 M61.55,1049.30 l2.1,-2.1 M65.55,1049.30 l2.1,-2.1 M69.55,1049.30 l2.1,-2.1 M73.55,1049.30 l2.1,-2.1 M77.55,1049.30 l2.1,-2.1 M57.55,1045.80 l2.1,-2.1 M61.55,1045.80 l2.1,-2.1 M65.55,1045.80 l2.1,-2.1 M69.55,1045.80 l2.1,-2.1 M73.55,1045.80 l2.1,-2.1 M77.55,1045.80 l2.1,-2.1 M57.55,1042.30 l2.1,-2.1 M61.55,1042.30 l2.1,-2.1 M65.55,1042.30 l2.1,-2.1 M69.55,1042.30 l2.1,-2.1 M73.55,1042.30 l2.1,-2.1 M77.55,1042.30 l2.1,-2.1 M57.55,1038.80 l2.1,-2.1 M61.55,1038.80 l2.1,-2.1 M65.55,1038.80 l2.1,-2.1 M69.55,1038.80 l2.1,-2.1 M73.55,1038.80 l2.1,-2.1 M77.55,1038.80 l2.1,-2.1 M57.55,1035.30 l2.1,-2.1 M61.55,1035.30 l2.1,-2.1 M65.55,1035.30 l2.1,-2.1 M69.55,1035.30 l2.1,-2.1 M73.55,1035.30 l2.1,-2.1 M77.55,1035.30 l2.1,-2.1 M57.55,1031.80 l2.1,-2.1 M61.55,1031.80 l2.1,-2.1 M65.55,1031.80 l2.1,-2.1 M69.55,1031.80 l2.1,-2.1 M73.55,1031.80 l2.1,-2.1 M77.55,1031.80 l2.1,-2.1 M57.55,1028.30 l2.1,-2.1 M61.55,1028.30 l2.1,-2.1 M65.55,1028.30 l2.1,-2.1 M69.55,1028.30 l2.1,-2.1 M73.55,1028.30 l2.1,-2.1 M77.55,1028.30 l2.1,-2.1 M57.55,1024.80 l2.1,-2.1 M61.55,1024.80 l2.1,-2.1 M65.55,1024.80 l2.1,-2.1 M69.55,1024.80 l2.1,-2.1 M73.55,1024.80 l2.1,-2.1 M77.55,1024.80 l2.1,-2.1 M57.55,1021.30 l2.1,-2.1 M61.55,1021.30 l2.1,-2.1 M65.55,1021.30 l2.1,-2.1 M69.55,1021.30 l2.1,-2.1 M73.55,1021.30 l2.1,-2.1 M77.55,1021.30 l2.1,-2.1 M57.55,1017.80 l2.1,-2.1 M61.55,1017.80 l2.1,-2.1 M65.55,1017.80 l2.1,-2.1 M69.55,1017.80 l2.1,-2.1 M73.55,1017.80 l2.1,-2.1 M77.55,1017.80 l2.1,-2.1 M57.55,1014.30 l2.1,-2.1 M61.55,1014.30 l2.1,-2.1 M65.55,1014.30 l2.1,-2.1 M69.55,1014.30 l2.1,-2.1 M73.55,1014.30 l2.1,-2.1 M77.55,1014.30 l2.1,-2.1 M57.55,1010.80 l2.1,-2.1 M61.55,1010.80 l2.1,-2.1 M65.55,1010.80 l2.1,-2.1 M69.55,1010.80 l2.1,-2.1 M73.55,1010.80 l2.1,-2.1 M77.55,1010.80 l2.1,-2.1 M57.55,1007.30 l2.1,-2.1 M61.55,1007.30 l2.1,-2.1 M65.55,1007.30 l2.1,-2.1 M69.55,1007.30 l2.1,-2.1 M73.55,1007.30 l2.1,-2.1 M77.55,1007.30 l2.1,-2.1 M57.55,1003.80 l2.1,-2.1 M61.55,1003.80 l2.1,-2.1 M65.55,1003.80 l2.1,-2.1 M69.55,1003.80 l2.1,-2.1 M73.55,1003.80 l2.1,-2.1 M77.55,1003.80 l2.1,-2.1 M57.55,1000.30 l2.1,-2.1 M61.55,1000.30 l2.1,-2.1 M65.55,1000.30 l2.1,-2.1 M69.55,1000.30 l2.1,-2.1 M73.55,1000.30 l2.1,-2.1 M77.55,1000.30 l2.1,-2.1" stroke="#fff" stroke-width="1.35" stroke-linecap="round" fill="none"/>
<path d="M57.20,1053.40 L57.20,1001.60 L79.60,1001.60 L79.60,1053.40" fill="none" stroke="#000" stroke-width="2.8" stroke-linejoin="round"/>
<line x1="68.40" y1="1053.40" x2="68.40" y2="1058.60" stroke="#000" stroke-width="2.1" stroke-linecap="butt"/>
<text x="72.70" y="1070.80" font-size="12.0" font-weight="bold" text-anchor="end" font-family='"Liberation Sans", sans-serif' transform="rotate(-45 72.70 1070.80)" >N</text>
<line x1="103.80" y1="910.00" x2="103.80" y2="904.50" stroke="#000" stroke-width="2.6"/>
<line x1="98.10" y1="904.50" x2="109.50" y2="904.50" stroke="#000" stroke-width="2.6" stroke-linecap="round"/>
<rect x="93.60" y="911.40" width="20.40" height="141.20" fill="#fff"/>
<path d="M94.8,912.6h1.0v1.0h-1.0zM98.1,912.6h1.0v1.0h-1.0zM101.4,912.6h1.0v1.0h-1.0zM104.7,912.6h1.0v1.0h-1.0zM108.0,912.6h1.0v1.0h-1.0zM111.3,912.6h1.0v1.0h-1.0zM94.8,915.9h1.0v1.0h-1.0zM98.1,915.9h1.0v1.0h-1.0zM101.4,915.9h1.0v1.0h-1.0zM104.7,915.9h1.0v1.0h-1.0zM108.0,915.9h1.0v1.0h-1.0zM111.3,915.9h1.0v1.0h-1.0zM94.8,919.2h1.0v1.0h-1.0zM98.1,919.2h1.0v1.0h-1.0zM101.4,919.2h1.0v1.0h-1.0zM104.7,919.2h1.0v1.0h-1.0zM108.0,919.2h1.0v1.0h-1.0zM111.3,919.2h1.0v1.0h-1.0zM94.8,922.5h1.0v1.0h-1.0zM98.1,922.5h1.0v1.0h-1.0zM101.4,922.5h1.0v1.0h-1.0zM104.7,922.5h1.0v1.0h-1.0zM108.0,922.5h1.0v1.0h-1.0zM111.3,922.5h1.0v1.0h-1.0zM94.8,925.8h1.0v1.0h-1.0zM98.1,925.8h1.0v1.0h-1.0zM101.4,925.8h1.0v1.0h-1.0zM104.7,925.8h1.0v1.0h-1.0zM108.0,925.8h1.0v1.0h-1.0zM111.3,925.8h1.0v1.0h-1.0zM94.8,929.1h1.0v1.0h-1.0zM98.1,929.1h1.0v1.0h-1.0zM101.4,929.1h1.0v1.0h-1.0zM104.7,929.1h1.0v1.0h-1.0zM108.0,929.1h1.0v1.0h-1.0zM111.3,929.1h1.0v1.0h-1.0zM94.8,932.4h1.0v1.0h-1.0zM98.1,932.4h1.0v1.0h-1.0zM101.4,932.4h1.0v1.0h-1.0zM104.7,932.4h1.0v1.0h-1.0zM108.0,932.4h1.0v1.0h-1.0zM111.3,932.4h1.0v1.0h-1.0zM94.8,935.7h1.0v1.0h-1.0zM98.1,935.7h1.0v1.0h-1.0zM101.4,935.7h1.0v1.0h-1.0zM104.7,935.7h1.0v1.0h-1.0zM108.0,935.7h1.0v1.0h-1.0zM111.3,935.7h1.0v1.0h-1.0zM94.8,939.0h1.0v1.0h-1.0zM98.1,939.0h1.0v1.0h-1.0zM101.4,939.0h1.0v1.0h-1.0zM104.7,939.0h1.0v1.0h-1.0zM108.0,939.0h1.0v1.0h-1.0zM111.3,939.0h1.0v1.0h-1.0zM94.8,942.3h1.0v1.0h-1.0zM98.1,942.3h1.0v1.0h-1.0zM101.4,942.3h1.0v1.0h-1.0zM104.7,942.3h1.0v1.0h-1.0zM108.0,942.3h1.0v1.0h-1.0zM111.3,942.3h1.0v1.0h-1.0zM94.8,945.6h1.0v1.0h-1.0zM98.1,945.6h1.0v1.0h-1.0zM101.4,945.6h1.0v1.0h-1.0zM104.7,945.6h1.0v1.0h-1.0zM108.0,945.6h1.0v1.0h-1.0zM111.3,945.6h1.0v1.0h-1.0zM94.8,948.9h1.0v1.0h-1.0zM98.1,948.9h1.0v1.0h-1.0zM101.4,948.9h1.0v1.0h-1.0zM104.7,948.9h1.0v1.0h-1.0zM108.0,948.9h1.0v1.0h-1.0zM111.3,948.9h1.0v1.0h-1.0zM94.8,952.2h1.0v1.0h-1.0zM98.1,952.2h1.0v1.0h-1.0zM101.4,952.2h1.0v1.0h-1.0zM104.7,952.2h1.0v1.0h-1.0zM108.0,952.2h1.0v1.0h-1.0zM111.3,952.2h1.0v1.0h-1.0zM94.8,955.5h1.0v1.0h-1.0zM98.1,955.5h1.0v1.0h-1.0zM101.4,955.5h1.0v1.0h-1.0zM104.7,955.5h1.0v1.0h-1.0zM108.0,955.5h1.0v1.0h-1.0zM111.3,955.5h1.0v1.0h-1.0zM94.8,958.8h1.0v1.0h-1.0zM98.1,958.8h1.0v1.0h-1.0zM101.4,958.8h1.0v1.0h-1.0zM104.7,958.8h1.0v1.0h-1.0zM108.0,958.8h1.0v1.0h-1.0zM111.3,958.8h1.0v1.0h-1.0zM94.8,962.1h1.0v1.0h-1.0zM98.1,962.1h1.0v1.0h-1.0zM101.4,962.1h1.0v1.0h-1.0zM104.7,962.1h1.0v1.0h-1.0zM108.0,962.1h1.0v1.0h-1.0zM111.3,962.1h1.0v1.0h-1.0zM94.8,965.4h1.0v1.0h-1.0zM98.1,965.4h1.0v1.0h-1.0zM101.4,965.4h1.0v1.0h-1.0zM104.7,965.4h1.0v1.0h-1.0zM108.0,965.4h1.0v1.0h-1.0zM111.3,965.4h1.0v1.0h-1.0zM94.8,968.7h1.0v1.0h-1.0zM98.1,968.7h1.0v1.0h-1.0zM101.4,968.7h1.0v1.0h-1.0zM104.7,968.7h1.0v1.0h-1.0zM108.0,968.7h1.0v1.0h-1.0zM111.3,968.7h1.0v1.0h-1.0zM94.8,972.0h1.0v1.0h-1.0zM98.1,972.0h1.0v1.0h-1.0zM101.4,972.0h1.0v1.0h-1.0zM104.7,972.0h1.0v1.0h-1.0zM108.0,972.0h1.0v1.0h-1.0zM111.3,972.0h1.0v1.0h-1.0zM94.8,975.3h1.0v1.0h-1.0zM98.1,975.3h1.0v1.0h-1.0zM101.4,975.3h1.0v1.0h-1.0zM104.7,975.3h1.0v1.0h-1.0zM108.0,975.3h1.0v1.0h-1.0zM111.3,975.3h1.0v1.0h-1.0zM94.8,978.6h1.0v1.0h-1.0zM98.1,978.6h1.0v1.0h-1.0zM101.4,978.6h1.0v1.0h-1.0zM104.7,978.6h1.0v1.0h-1.0zM108.0,978.6h1.0v1.0h-1.0zM111.3,978.6h1.0v1.0h-1.0zM94.8,981.9h1.0v1.0h-1.0zM98.1,981.9h1.0v1.0h-1.0zM101.4,981.9h1.0v1.0h-1.0zM104.7,981.9h1.0v1.0h-1.0zM108.0,981.9h1.0v1.0h-1.0zM111.3,981.9h1.0v1.0h-1.0zM94.8,985.2h1.0v1.0h-1.0zM98.1,985.2h1.0v1.0h-1.0zM101.4,985.2h1.0v1.0h-1.0zM104.7,985.2h1.0v1.0h-1.0zM108.0,985.2h1.0v1.0h-1.0zM111.3,985.2h1.0v1.0h-1.0zM94.8,988.5h1.0v1.0h-1.0zM98.1,988.5h1.0v1.0h-1.0zM101.4,988.5h1.0v1.0h-1.0zM104.7,988.5h1.0v1.0h-1.0zM108.0,988.5h1.0v1.0h-1.0zM111.3,988.5h1.0v1.0h-1.0zM94.8,991.8h1.0v1.0h-1.0zM98.1,991.8h1.0v1.0h-1.0zM101.4,991.8h1.0v1.0h-1.0zM104.7,991.8h1.0v1.0h-1.0zM108.0,991.8h1.0v1.0h-1.0zM111.3,991.8h1.0v1.0h-1.0zM94.8,995.1h1.0v1.0h-1.0zM98.1,995.1h1.0v1.0h-1.0zM101.4,995.1h1.0v1.0h-1.0zM104.7,995.1h1.0v1.0h-1.0zM108.0,995.1h1.0v1.0h-1.0zM111.3,995.1h1.0v1.0h-1.0zM94.8,998.4h1.0v1.0h-1.0zM98.1,998.4h1.0v1.0h-1.0zM101.4,998.4h1.0v1.0h-1.0zM104.7,998.4h1.0v1.0h-1.0zM108.0,998.4h1.0v1.0h-1.0zM111.3,998.4h1.0v1.0h-1.0zM94.8,1001.7h1.0v1.0h-1.0zM98.1,1001.7h1.0v1.0h-1.0zM101.4,1001.7h1.0v1.0h-1.0zM104.7,1001.7h1.0v1.0h-1.0zM108.0,1001.7h1.0v1.0h-1.0zM111.3,1001.7h1.0v1.0h-1.0zM94.8,1005.0h1.0v1.0h-1.0zM98.1,1005.0h1.0v1.0h-1.0zM101.4,1005.0h1.0v1.0h-1.0zM104.7,1005.0h1.0v1.0h-1.0zM108.0,1005.0h1.0v1.0h-1.0zM111.3,1005.0h1.0v1.0h-1.0zM94.8,1008.3h1.0v1.0h-1.0zM98.1,1008.3h1.0v1.0h-1.0zM101.4,1008.3h1.0v1.0h-1.0zM104.7,1008.3h1.0v1.0h-1.0zM108.0,1008.3h1.0v1.0h-1.0zM111.3,1008.3h1.0v1.0h-1.0zM94.8,1011.6h1.0v1.0h-1.0zM98.1,1011.6h1.0v1.0h-1.0zM101.4,1011.6h1.0v1.0h-1.0zM104.7,1011.6h1.0v1.0h-1.0zM108.0,1011.6h1.0v1.0h-1.0zM111.3,1011.6h1.0v1.0h-1.0zM94.8,1014.9h1.0v1.0h-1.0zM98.1,1014.9h1.0v1.0h-1.0zM101.4,1014.9h1.0v1.0h-1.0zM104.7,1014.9h1.0v1.0h-1.0zM108.0,1014.9h1.0v1.0h-1.0zM111.3,1014.9h1.0v1.0h-1.0zM94.8,1018.2h1.0v1.0h-1.0zM98.1,1018.2h1.0v1.0h-1.0zM101.4,1018.2h1.0v1.0h-1.0zM104.7,1018.2h1.0v1.0h-1.0zM108.0,1018.2h1.0v1.0h-1.0zM111.3,1018.2h1.0v1.0h-1.0zM94.8,1021.5h1.0v1.0h-1.0zM98.1,1021.5h1.0v1.0h-1.0zM101.4,1021.5h1.0v1.0h-1.0zM104.7,1021.5h1.0v1.0h-1.0zM108.0,1021.5h1.0v1.0h-1.0zM111.3,1021.5h1.0v1.0h-1.0zM94.8,1024.8h1.0v1.0h-1.0zM98.1,1024.8h1.0v1.0h-1.0zM101.4,1024.8h1.0v1.0h-1.0zM104.7,1024.8h1.0v1.0h-1.0zM108.0,1024.8h1.0v1.0h-1.0zM111.3,1024.8h1.0v1.0h-1.0zM94.8,1028.1h1.0v1.0h-1.0zM98.1,1028.1h1.0v1.0h-1.0zM101.4,1028.1h1.0v1.0h-1.0zM104.7,1028.1h1.0v1.0h-1.0zM108.0,1028.1h1.0v1.0h-1.0zM111.3,1028.1h1.0v1.0h-1.0zM94.8,1031.4h1.0v1.0h-1.0zM98.1,1031.4h1.0v1.0h-1.0zM101.4,1031.4h1.0v1.0h-1.0zM104.7,1031.4h1.0v1.0h-1.0zM108.0,1031.4h1.0v1.0h-1.0zM111.3,1031.4h1.0v1.0h-1.0zM94.8,1034.7h1.0v1.0h-1.0zM98.1,1034.7h1.0v1.0h-1.0zM101.4,1034.7h1.0v1.0h-1.0zM104.7,1034.7h1.0v1.0h-1.0zM108.0,1034.7h1.0v1.0h-1.0zM111.3,1034.7h1.0v1.0h-1.0zM94.8,1038.0h1.0v1.0h-1.0zM98.1,1038.0h1.0v1.0h-1.0zM101.4,1038.0h1.0v1.0h-1.0zM104.7,1038.0h1.0v1.0h-1.0zM108.0,1038.0h1.0v1.0h-1.0zM111.3,1038.0h1.0v1.0h-1.0zM94.8,1041.3h1.0v1.0h-1.0zM98.1,1041.3h1.0v1.0h-1.0zM101.4,1041.3h1.0v1.0h-1.0zM104.7,1041.3h1.0v1.0h-1.0zM108.0,1041.3h1.0v1.0h-1.0zM111.3,1041.3h1.0v1.0h-1.0zM94.8,1044.6h1.0v1.0h-1.0zM98.1,1044.6h1.0v1.0h-1.0zM101.4,1044.6h1.0v1.0h-1.0zM104.7,1044.6h1.0v1.0h-1.0zM108.0,1044.6h1.0v1.0h-1.0zM111.3,1044.6h1.0v1.0h-1.0zM94.8,1047.9h1.0v1.0h-1.0zM98.1,1047.9h1.0v1.0h-1.0zM101.4,1047.9h1.0v1.0h-1.0zM104.7,1047.9h1.0v1.0h-1.0zM108.0,1047.9h1.0v1.0h-1.0zM111.3,1047.9h1.0v1.0h-1.0zM94.8,1051.2h1.0v1.0h-1.0zM98.1,1051.2h1.0v1.0h-1.0zM101.4,1051.2h1.0v1.0h-1.0zM104.7,1051.2h1.0v1.0h-1.0zM108.0,1051.2h1.0v1.0h-1.0zM111.3,1051.2h1.0v1.0h-1.0z" fill="#000"/>
<path d="M92.60,1053.40 L92.60,910.40 L115.00,910.40 L115.00,1053.40" fill="none" stroke="#000" stroke-width="2.8" stroke-linejoin="round"/>
<line x1="103.80" y1="1053.40" x2="103.80" y2="1058.60" stroke="#000" stroke-width="2.1" stroke-linecap="butt"/>
<text x="108.10" y="1070.80" font-size="12.0" font-weight="bold" text-anchor="end" font-family='"Liberation Sans", sans-serif' transform="rotate(-45 108.10 1070.80)" >C</text>
<line x1="139.10" y1="929.00" x2="139.10" y2="926.30" stroke="#000" stroke-width="2.6"/>
<line x1="133.40" y1="926.30" x2="144.80" y2="926.30" stroke="#000" stroke-width="2.6" stroke-linecap="round"/>
<rect x="127.90" y="929.40" width="22.40" height="124.00" fill="#fff"/>
<path d="M127.90,1053.40 L127.90,929.40 L150.30,929.40 L150.30,1053.40" fill="none" stroke="#000" stroke-width="2.8" stroke-linejoin="round"/>
<line x1="139.10" y1="1053.40" x2="139.10" y2="1058.60" stroke="#000" stroke-width="2.1" stroke-linecap="butt"/>
<text x="143.40" y="1070.80" font-size="12.0" font-weight="bold" text-anchor="end" font-family='"Liberation Sans", sans-serif' transform="rotate(-45 143.40 1070.80)" >Neo</text>
<line x1="174.40" y1="964.00" x2="174.40" y2="960.30" stroke="#000" stroke-width="2.6"/>
<line x1="168.70" y1="960.30" x2="180.10" y2="960.30" stroke="#000" stroke-width="2.6" stroke-linecap="round"/>
<rect x="163.20" y="964.40" width="22.40" height="89.00" fill="#000"/>
<path d="M163.20,1053.40 L163.20,964.40 L185.60,964.40 L185.60,1053.40" fill="none" stroke="#000" stroke-width="2.8" stroke-linejoin="round"/>
<line x1="174.40" y1="1053.40" x2="174.40" y2="1058.60" stroke="#000" stroke-width="2.1" stroke-linecap="butt"/>
<text x="178.70" y="1070.80" font-size="12.0" font-weight="bold" text-anchor="end" font-family='"Liberation Sans", sans-serif' transform="rotate(-45 178.70 1070.80)" >Diclo</text>
<line x1="209.70" y1="942.50" x2="209.70" y2="940.60" stroke="#000" stroke-width="2.6"/>
<line x1="204.00" y1="940.60" x2="215.40" y2="940.60" stroke="#000" stroke-width="2.6" stroke-linecap="round"/>
<rect x="198.50" y="942.90" width="22.40" height="110.50" fill="#5f5f5f"/>
<path d="M198.50,1053.40 L198.50,942.90 L220.90,942.90 L220.90,1053.40" fill="none" stroke="#000" stroke-width="2.8" stroke-linejoin="round"/>
<line x1="209.70" y1="1053.40" x2="209.70" y2="1058.60" stroke="#000" stroke-width="2.1" stroke-linecap="butt"/>
<text x="214.00" y="1070.80" font-size="12.0" font-weight="bold" text-anchor="end" font-family='"Liberation Sans", sans-serif' transform="rotate(-45 214.00 1070.80)" >Cele</text>
<line x1="245.00" y1="935.00" x2="245.00" y2="933.10" stroke="#000" stroke-width="2.6"/>
<line x1="239.30" y1="933.10" x2="250.70" y2="933.10" stroke="#000" stroke-width="2.6" stroke-linecap="round"/>
<clipPath id="c6"><rect x="233.40" y="935.00" width="23.20" height="118.40"/></clipPath>
<rect x="233.40" y="935.00" width="23.20" height="118.40" fill="#fff"/>
<path clip-path="url(#c6)" d="M-31.20,935.00 L87.20,1053.40 M-27.80,935.00 L90.60,1053.40 M-24.40,935.00 L94.00,1053.40 M-21.00,935.00 L97.40,1053.40 M-17.60,935.00 L100.80,1053.40 M-14.20,935.00 L104.20,1053.40 M-10.80,935.00 L107.60,1053.40 M-7.40,935.00 L111.00,1053.40 M-4.00,935.00 L114.40,1053.40 M-0.60,935.00 L117.80,1053.40 M2.80,935.00 L121.20,1053.40 M6.20,935.00 L124.60,1053.40 M9.60,935.00 L128.00,1053.40 M13.00,935.00 L131.40,1053.40 M16.40,935.00 L134.80,1053.40 M19.80,935.00 L138.20,1053.40 M23.20,935.00 L141.60,1053.40 M26.60,935.00 L145.00,1053.40 M30.00,935.00 L148.40,1053.40 M33.40,935.00 L151.80,1053.40 M36.80,935.00 L155.20,1053.40 M40.20,935.00 L158.60,1053.40 M43.60,935.00 L162.00,1053.40 M47.00,935.00 L165.40,1053.40 M50.40,935.00 L168.80,1053.40 M53.80,935.00 L172.20,1053.40 M57.20,935.00 L175.60,1053.40 M60.60,935.00 L179.00,1053.40 M64.00,935.00 L182.40,1053.40 M67.40,935.00 L185.80,1053.40 M70.80,935.00 L189.20,1053.40 M74.20,935.00 L192.60,1053.40 M77.60,935.00 L196.00,1053.40 M81.00,935.00 L199.40,1053.40 M84.40,935.00 L202.80,1053.40 M87.80,935.00 L206.20,1053.40 M91.20,935.00 L209.60,1053.40 M94.60,935.00 L213.00,1053.40 M98.00,935.00 L216.40,1053.40 M101.40,935.00 L219.80,1053.40 M104.80,935.00 L223.20,1053.40 M108.20,935.00 L226.60,1053.40 M111.60,935.00 L230.00,1053.40 M115.00,935.00 L233.40,1053.40 M118.40,935.00 L236.80,1053.40 M121.80,935.00 L240.20,1053.40 M125.20,935.00 L243.60,1053.40 M128.60,935.00 L247.00,1053.40 M132.00,935.00 L250.40,1053.40 M135.40,935.00 L253.80,1053.40 M138.80,935.00 L257.20,1053.40 M142.20,935.00 L260.60,1053.40 M145.60,935.00 L264.00,1053.40 M149.00,935.00 L267.40,1053.40 M152.40,935.00 L270.80,1053.40 M155.80,935.00 L274.20,1053.40 M159.20,935.00 L277.60,1053.40 M162.60,935.00 L281.00,1053.40 M166.00,935.00 L284.40,1053.40 M169.40,935.00 L287.80,1053.40 M172.80,935.00 L291.20,1053.40 M176.20,935.00 L294.60,1053.40 M179.60,935.00 L298.00,1053.40 M183.00,935.00 L301.40,1053.40 M186.40,935.00 L304.80,1053.40 M189.80,935.00 L308.20,1053.40 M193.20,935.00 L311.60,1053.40 M196.60,935.00 L315.00,1053.40 M200.00,935.00 L318.40,1053.40 M203.40,935.00 L321.80,1053.40 M206.80,935.00 L325.20,1053.40 M210.20,935.00 L328.60,1053.40 M213.60,935.00 L332.00,1053.40 M217.00,935.00 L335.40,1053.40 M220.40,935.00 L338.80,1053.40 M223.80,935.00 L342.20,1053.40 M227.20,935.00 L345.60,1053.40 M230.60,935.00 L349.00,1053.40 M234.00,935.00 L352.40,1053.40 M237.40,935.00 L355.80,1053.40 M240.80,935.00 L359.20,1053.40 M244.20,935.00 L362.60,1053.40 M247.60,935.00 L366.00,1053.40 M251.00,935.00 L369.40,1053.40 M254.40,935.00 L372.80,1053.40 M257.80,935.00 L376.20,1053.40" stroke="#000" stroke-width="1.2" fill="none"/>
<path d="M233.80,1053.40 L233.80,935.40 L256.20,935.40 L256.20,1053.40" fill="none" stroke="#000" stroke-width="2.8" stroke-linejoin="round"/>
<line x1="245.00" y1="1053.40" x2="245.00" y2="1058.60" stroke="#000" stroke-width="2.1" stroke-linecap="butt"/>
<text x="249.30" y="1070.80" font-size="12.0" font-weight="bold" text-anchor="end" font-family='"Liberation Sans", sans-serif' transform="rotate(-45 249.30 1070.80)" >Neo+Diclo</text>
<line x1="280.20" y1="938.50" x2="280.20" y2="935.30" stroke="#000" stroke-width="2.6"/>
<line x1="274.50" y1="935.30" x2="285.90" y2="935.30" stroke="#000" stroke-width="2.6" stroke-linecap="round"/>
<clipPath id="c7"><rect x="268.60" y="938.50" width="23.20" height="114.90"/></clipPath>
<rect x="268.60" y="938.50" width="23.20" height="114.90" fill="#fff"/>
<path clip-path="url(#c7)" d="M267.10,937.00h3.20v3.20h-3.20zM273.50,937.00h3.20v3.20h-3.20zM279.90,937.00h3.20v3.20h-3.20zM286.30,937.00h3.20v3.20h-3.20zM292.70,937.00h3.20v3.20h-3.20zM299.10,937.00h3.20v3.20h-3.20zM270.30,940.20h3.20v3.20h-3.20zM276.70,940.20h3.20v3.20h-3.20zM283.10,940.20h3.20v3.20h-3.20zM289.50,940.20h3.20v3.20h-3.20zM295.90,940.20h3.20v3.20h-3.20zM267.10,943.40h3.20v3.20h-3.20zM273.50,943.40h3.20v3.20h-3.20zM279.90,943.40h3.20v3.20h-3.20zM286.30,943.40h3.20v3.20h-3.20zM292.70,943.40h3.20v3.20h-3.20zM299.10,943.40h3.20v3.20h-3.20zM270.30,946.60h3.20v3.20h-3.20zM276.70,946.60h3.20v3.20h-3.20zM283.10,946.60h3.20v3.20h-3.20zM289.50,946.60h3.20v3.20h-3.20zM295.90,946.60h3.20v3.20h-3.20zM267.10,949.80h3.20v3.20h-3.20zM273.50,949.80h3.20v3.20h-3.20zM279.90,949.80h3.20v3.20h-3.20zM286.30,949.80h3.20v3.20h-3.20zM292.70,949.80h3.20v3.20h-3.20zM299.10,949.80h3.20v3.20h-3.20zM270.30,953.00h3.20v3.20h-3.20zM276.70,953.00h3.20v3.20h-3.20zM283.10,953.00h3.20v3.20h-3.20zM289.50,953.00h3.20v3.20h-3.20zM295.90,953.00h3.20v3.20h-3.20zM267.10,956.20h3.20v3.20h-3.20zM273.50,956.20h3.20v3.20h-3.20zM279.90,956.20h3.20v3.20h-3.20zM286.30,956.20h3.20v3.20h-3.20zM292.70,956.20h3.20v3.20h-3.20zM299.10,956.20h3.20v3.20h-3.20zM270.30,959.40h3.20v3.20h-3.20zM276.70,959.40h3.20v3.20h-3.20zM283.10,959.40h3.20v3.20h-3.20zM289.50,959.40h3.20v3.20h-3.20zM295.90,959.40h3.20v3.20h-3.20zM267.10,962.60h3.20v3.20h-3.20zM273.50,962.60h3.20v3.20h-3.20zM279.90,962.60h3.20v3.20h-3.20zM286.30,962.60h3.20v3.20h-3.20zM292.70,962.60h3.20v3.20h-3.20zM299.10,962.60h3.20v3.20h-3.20zM270.30,965.80h3.20v3.20h-3.20zM276.70,965.80h3.20v3.20h-3.20zM283.10,965.80h3.20v3.20h-3.20zM289.50,965.80h3.20v3.20h-3.20zM295.90,965.80h3.20v3.20h-3.20zM267.10,969.00h3.20v3.20h-3.20zM273.50,969.00h3.20v3.20h-3.20zM279.90,969.00h3.20v3.20h-3.20zM286.30,969.00h3.20v3.20h-3.20zM292.70,969.00h3.20v3.20h-3.20zM299.10,969.00h3.20v3.20h-3.20zM270.30,972.20h3.20v3.20h-3.20zM276.70,972.20h3.20v3.20h-3.20zM283.10,972.20h3.20v3.20h-3.20zM289.50,972.20h3.20v3.20h-3.20zM295.90,972.20h3.20v3.20h-3.20zM267.10,975.40h3.20v3.20h-3.20zM273.50,975.40h3.20v3.20h-3.20zM279.90,975.40h3.20v3.20h-3.20zM286.30,975.40h3.20v3.20h-3.20zM292.70,975.40h3.20v3.20h-3.20zM299.10,975.40h3.20v3.20h-3.20zM270.30,978.60h3.20v3.20h-3.20zM276.70,978.60h3.20v3.20h-3.20zM283.10,978.60h3.20v3.20h-3.20zM289.50,978.60h3.20v3.20h-3.20zM295.90,978.60h3.20v3.20h-3.20zM267.10,981.80h3.20v3.20h-3.20zM273.50,981.80h3.20v3.20h-3.20zM279.90,981.80h3.20v3.20h-3.20zM286.30,981.80h3.20v3.20h-3.20zM292.70,981.80h3.20v3.20h-3.20zM299.10,981.80h3.20v3.20h-3.20zM270.30,985.00h3.20v3.20h-3.20zM276.70,985.00h3.20v3.20h-3.20zM283.10,985.00h3.20v3.20h-3.20zM289.50,985.00h3.20v3.20h-3.20zM295.90,985.00h3.20v3.20h-3.20zM267.10,988.20h3.20v3.20h-3.20zM273.50,988.20h3.20v3.20h-3.20zM279.90,988.20h3.20v3.20h-3.20zM286.30,988.20h3.20v3.20h-3.20zM292.70,988.20h3.20v3.20h-3.20zM299.10,988.20h3.20v3.20h-3.20zM270.30,991.40h3.20v3.20h-3.20zM276.70,991.40h3.20v3.20h-3.20zM283.10,991.40h3.20v3.20h-3.20zM289.50,991.40h3.20v3.20h-3.20zM295.90,991.40h3.20v3.20h-3.20zM267.10,994.60h3.20v3.20h-3.20zM273.50,994.60h3.20v3.20h-3.20zM279.90,994.60h3.20v3.20h-3.20zM286.30,994.60h3.20v3.20h-3.20zM292.70,994.60h3.20v3.20h-3.20zM299.10,994.60h3.20v3.20h-3.20zM270.30,997.80h3.20v3.20h-3.20zM276.70,997.80h3.20v3.20h-3.20zM283.10,997.80h3.20v3.20h-3.20zM289.50,997.80h3.20v3.20h-3.20zM295.90,997.80h3.20v3.20h-3.20zM267.10,1001.00h3.20v3.20h-3.20zM273.50,1001.00h3.20v3.20h-3.20zM279.90,1001.00h3.20v3.20h-3.20zM286.30,1001.00h3.20v3.20h-3.20zM292.70,1001.00h3.20v3.20h-3.20zM299.10,1001.00h3.20v3.20h-3.20zM270.30,1004.20h3.20v3.20h-3.20zM276.70,1004.20h3.20v3.20h-3.20zM283.10,1004.20h3.20v3.20h-3.20zM289.50,1004.20h3.20v3.20h-3.20zM295.90,1004.20h3.20v3.20h-3.20zM267.10,1007.40h3.20v3.20h-3.20zM273.50,1007.40h3.20v3.20h-3.20zM279.90,1007.40h3.20v3.20h-3.20zM286.30,1007.40h3.20v3.20h-3.20zM292.70,1007.40h3.20v3.20h-3.20zM299.10,1007.40h3.20v3.20h-3.20zM270.30,1010.60h3.20v3.20h-3.20zM276.70,1010.60h3.20v3.20h-3.20zM283.10,1010.60h3.20v3.20h-3.20zM289.50,1010.60h3.20v3.20h-3.20zM295.90,1010.60h3.20v3.20h-3.20zM267.10,1013.80h3.20v3.20h-3.20zM273.50,1013.80h3.20v3.20h-3.20zM279.90,1013.80h3.20v3.20h-3.20zM286.30,1013.80h3.20v3.20h-3.20zM292.70,1013.80h3.20v3.20h-3.20zM299.10,1013.80h3.20v3.20h-3.20zM270.30,1017.00h3.20v3.20h-3.20zM276.70,1017.00h3.20v3.20h-3.20zM283.10,1017.00h3.20v3.20h-3.20zM289.50,1017.00h3.20v3.20h-3.20zM295.90,1017.00h3.20v3.20h-3.20zM267.10,1020.20h3.20v3.20h-3.20zM273.50,1020.20h3.20v3.20h-3.20zM279.90,1020.20h3.20v3.20h-3.20zM286.30,1020.20h3.20v3.20h-3.20zM292.70,1020.20h3.20v3.20h-3.20zM299.10,1020.20h3.20v3.20h-3.20zM270.30,1023.40h3.20v3.20h-3.20zM276.70,1023.40h3.20v3.20h-3.20zM283.10,1023.40h3.20v3.20h-3.20zM289.50,1023.40h3.20v3.20h-3.20zM295.90,1023.40h3.20v3.20h-3.20zM267.10,1026.60h3.20v3.20h-3.20zM273.50,1026.60h3.20v3.20h-3.20zM279.90,1026.60h3.20v3.20h-3.20zM286.30,1026.60h3.20v3.20h-3.20zM292.70,1026.60h3.20v3.20h-3.20zM299.10,1026.60h3.20v3.20h-3.20zM270.30,1029.80h3.20v3.20h-3.20zM276.70,1029.80h3.20v3.20h-3.20zM283.10,1029.80h3.20v3.20h-3.20zM289.50,1029.80h3.20v3.20h-3.20zM295.90,1029.80h3.20v3.20h-3.20zM267.10,1033.00h3.20v3.20h-3.20zM273.50,1033.00h3.20v3.20h-3.20zM279.90,1033.00h3.20v3.20h-3.20zM286.30,1033.00h3.20v3.20h-3.20zM292.70,1033.00h3.20v3.20h-3.20zM299.10,1033.00h3.20v3.20h-3.20zM270.30,1036.20h3.20v3.20h-3.20zM276.70,1036.20h3.20v3.20h-3.20zM283.10,1036.20h3.20v3.20h-3.20zM289.50,1036.20h3.20v3.20h-3.20zM295.90,1036.20h3.20v3.20h-3.20zM267.10,1039.40h3.20v3.20h-3.20zM273.50,1039.40h3.20v3.20h-3.20zM279.90,1039.40h3.20v3.20h-3.20zM286.30,1039.40h3.20v3.20h-3.20zM292.70,1039.40h3.20v3.20h-3.20zM299.10,1039.40h3.20v3.20h-3.20zM270.30,1042.60h3.20v3.20h-3.20zM276.70,1042.60h3.20v3.20h-3.20zM283.10,1042.60h3.20v3.20h-3.20zM289.50,1042.60h3.20v3.20h-3.20zM295.90,1042.60h3.20v3.20h-3.20zM267.10,1045.80h3.20v3.20h-3.20zM273.50,1045.80h3.20v3.20h-3.20zM279.90,1045.80h3.20v3.20h-3.20zM286.30,1045.80h3.20v3.20h-3.20zM292.70,1045.80h3.20v3.20h-3.20zM299.10,1045.80h3.20v3.20h-3.20zM270.30,1049.00h3.20v3.20h-3.20zM276.70,1049.00h3.20v3.20h-3.20zM283.10,1049.00h3.20v3.20h-3.20zM289.50,1049.00h3.20v3.20h-3.20zM295.90,1049.00h3.20v3.20h-3.20zM267.10,1052.20h3.20v3.20h-3.20zM273.50,1052.20h3.20v3.20h-3.20zM279.90,1052.20h3.20v3.20h-3.20zM286.30,1052.20h3.20v3.20h-3.20zM292.70,1052.20h3.20v3.20h-3.20zM299.10,1052.20h3.20v3.20h-3.20zM270.30,1055.40h3.20v3.20h-3.20zM276.70,1055.40h3.20v3.20h-3.20zM283.10,1055.40h3.20v3.20h-3.20zM289.50,1055.40h3.20v3.20h-3.20zM295.90,1055.40h3.20v3.20h-3.20zM267.10,1058.60h3.20v3.20h-3.20zM273.50,1058.60h3.20v3.20h-3.20zM279.90,1058.60h3.20v3.20h-3.20zM286.30,1058.60h3.20v3.20h-3.20zM292.70,1058.60h3.20v3.20h-3.20zM299.10,1058.60h3.20v3.20h-3.20z" fill="#000"/>
<path d="M269.00,1053.40 L269.00,938.90 L291.40,938.90 L291.40,1053.40" fill="none" stroke="#000" stroke-width="2.8" stroke-linejoin="round"/>
<line x1="280.20" y1="1053.40" x2="280.20" y2="1058.60" stroke="#000" stroke-width="2.1" stroke-linecap="butt"/>
<text x="284.50" y="1070.80" font-size="12.0" font-weight="bold" text-anchor="end" font-family='"Liberation Sans", sans-serif' transform="rotate(-45 284.50 1070.80)" >Neo+Cele</text>
<line x1="49.90" y1="1053.40" x2="298.40" y2="1053.40" stroke="#000" stroke-width="2.2" stroke-linecap="butt"/>
<text x="103.40" y="897.20" font-size="11.2" font-weight="bold" text-anchor="middle" font-family='"Liberation Sans", sans-serif' style="stroke-width:0.05px">b</text>
<text x="131.40" y="922.60" font-size="18.2" font-weight="bold" text-anchor="middle" font-family='"Liberation Sans", sans-serif' style="stroke-width:0.1px">*</text>
<text x="141.50" y="917.40" font-size="11.2" font-weight="bold" text-anchor="middle" font-family='"Liberation Sans", sans-serif' style="stroke-width:0.05px">b</text>
<text x="171.40" y="943.20" font-size="11.5" font-weight="normal" text-anchor="middle" font-family='"Liberation Sans", sans-serif' stroke="#000" stroke-width="0.45">@</text>
<text x="167.00" y="962.20" font-size="18.2" font-weight="bold" text-anchor="middle" font-family='"Liberation Sans", sans-serif' style="stroke-width:0.1px">*</text>
<text x="175.40" y="955.60" font-size="11.2" font-weight="bold" text-anchor="middle" font-family='"Liberation Sans", sans-serif' style="stroke-width:0.05px">b</text>
<text x="201.60" y="924.80" font-size="18.2" font-weight="bold" text-anchor="middle" font-family='"Liberation Sans", sans-serif' style="stroke-width:0.1px">*</text>
<text x="211.80" y="917.50" font-size="11.4" font-weight="normal" text-anchor="middle" font-family='"Liberation Serif", serif' stroke="#000" stroke-width="0.25">μ</text>
<text x="202.00" y="932.40" font-size="11.5" font-weight="normal" text-anchor="middle" font-family='"Liberation Sans", sans-serif' stroke="#000" stroke-width="0.45">@</text>
<text x="211.70" y="932.00" font-size="11.2" font-weight="bold" text-anchor="middle" font-family='"Liberation Sans", sans-serif' style="stroke-width:0.05px">b</text>
<text x="238.40" y="920.20" font-size="18.2" font-weight="bold" text-anchor="middle" font-family='"Liberation Sans", sans-serif' style="stroke-width:0.1px">*</text>
<text x="236.60" y="928.60" font-size="11.4" font-weight="normal" text-anchor="middle" font-family='"Liberation Serif", serif' stroke="#000" stroke-width="0.25">μ</text>
<text x="246.30" y="929.50" font-size="11.2" font-weight="bold" text-anchor="middle" font-family='"Liberation Sans", sans-serif' style="stroke-width:0.05px">b</text>
<text x="275.20" y="921.30" font-size="18.2" font-weight="bold" text-anchor="middle" font-family='"Liberation Sans", sans-serif' style="stroke-width:0.1px">*</text>
<text x="270.90" y="928.60" font-size="11.4" font-weight="normal" text-anchor="middle" font-family='"Liberation Serif", serif' stroke="#000" stroke-width="0.25">μ</text>
<text x="284.40" y="929.50" font-size="11.2" font-weight="bold" text-anchor="middle" font-family='"Liberation Sans", sans-serif' style="stroke-width:0.05px">b</text>
<rect x="383.6" y="521.0" width="323.79999999999995" height="323.9" fill="none" stroke="#000" stroke-width="1.75"/>
<line x1="378.40" y1="521.20" x2="383.60" y2="521.20" stroke="#000" stroke-width="1.6" stroke-linecap="butt"/>
<text x="377.90" y="525.20" font-size="11.0" font-weight="bold" text-anchor="end" font-family='"Liberation Sans", sans-serif' >40</text>
<line x1="378.40" y1="586.00" x2="383.60" y2="586.00" stroke="#000" stroke-width="1.6" stroke-linecap="butt"/>
<text x="377.90" y="590.00" font-size="11.0" font-weight="bold" text-anchor="end" font-family='"Liberation Sans", sans-serif' >30</text>
<line x1="378.40" y1="650.80" x2="383.60" y2="650.80" stroke="#000" stroke-width="1.6" stroke-linecap="butt"/>
<text x="377.90" y="654.80" font-size="11.0" font-weight="bold" text-anchor="end" font-family='"Liberation Sans", sans-serif' >20</text>
<line x1="378.40" y1="715.60" x2="383.60" y2="715.60" stroke="#000" stroke-width="1.6" stroke-linecap="butt"/>
<text x="377.90" y="719.60" font-size="11.0" font-weight="bold" text-anchor="end" font-family='"Liberation Sans", sans-serif' >10</text>
<line x1="378.40" y1="780.40" x2="383.60" y2="780.40" stroke="#000" stroke-width="1.6" stroke-linecap="butt"/>
<text x="377.90" y="784.40" font-size="11.0" font-weight="bold" text-anchor="end" font-family='"Liberation Sans", sans-serif' >0</text>
<line x1="378.40" y1="845.20" x2="383.60" y2="845.20" stroke="#000" stroke-width="1.6" stroke-linecap="butt"/>
<text x="377.90" y="849.20" font-size="11.0" font-weight="bold" text-anchor="end" font-family='"Liberation Sans", sans-serif' >-10</text>
<line x1="464.80" y1="844.90" x2="464.80" y2="850.60" stroke="#000" stroke-width="1.7" stroke-linecap="butt"/>
<line x1="626.70" y1="844.90" x2="626.70" y2="850.60" stroke="#000" stroke-width="1.7" stroke-linecap="butt"/>
<text x="464.80" y="862.90" font-size="12.5" font-weight="bold" text-anchor="middle" font-family='"Liberation Sans", sans-serif' textLength="47.00" lengthAdjust="spacingAndGlyphs" >Tail clip</text>
<text x="588.0" y="862.0" font-size="12.5" font-weight="bold" font-family='"Liberation Sans", sans-serif' textLength="75.2" lengthAdjust="spacingAndGlyphs"><tspan font-family='"Liberation Serif", serif' font-weight="normal" font-size="13.5" style="stroke-width:0.1px">β</tspan>-endorphin</text>
<line x1="464.80" y1="744.40" x2="626.70" y2="636.50" stroke="#000" stroke-width="1.75" stroke-linecap="butt"/>
<circle cx="464.8" cy="744.4" r="3.4" fill="#000"/>
<path d="M623.40,639.50 L630.00,639.50 L626.70,633.20 Z" fill="#000"/>
<line x1="464.80" y1="780.30" x2="626.70" y2="580.00" stroke="#000" stroke-width="1.75" stroke-linecap="butt"/>
<circle cx="464.8" cy="780.3" r="3.4" fill="#000"/>
<path d="M623.40,583.00 L630.00,583.00 L626.70,576.70 Z" fill="#000"/>
<line x1="464.80" y1="797.70" x2="626.70" y2="590.20" stroke="#000" stroke-width="1.75" stroke-linecap="butt"/>
<circle cx="464.8" cy="797.7" r="3.4" fill="#000"/>
<path d="M623.40,593.20 L630.00,593.20 L626.70,586.90 Z" fill="#000"/>
<line x1="464.80" y1="820.50" x2="626.70" y2="595.50" stroke="#000" stroke-width="1.75" stroke-linecap="butt"/>
<circle cx="464.8" cy="820.5" r="3.4" fill="#000"/>
<path d="M623.40,598.50 L630.00,598.50 L626.70,592.20 Z" fill="#000"/>
<line x1="464.80" y1="835.80" x2="626.70" y2="602.00" stroke="#000" stroke-width="1.75" stroke-linecap="butt"/>
<circle cx="464.8" cy="835.8" r="3.4" fill="#000"/>
<path d="M623.40,605.00 L630.00,605.00 L626.70,598.70 Z" fill="#000"/>
<text x="632.50" y="579.90" font-size="12.6" font-weight="normal" text-anchor="start" font-family='"Liberation Sans", sans-serif' stroke="#000" stroke-width="0.35">Neo</text>
<text x="632.50" y="592.40" font-size="12.6" font-weight="normal" text-anchor="start" font-family='"Liberation Sans", sans-serif' stroke="#000" stroke-width="0.35">Neo+Diclo</text>
<text x="632.50" y="603.10" font-size="12.6" font-weight="normal" text-anchor="start" font-family='"Liberation Sans", sans-serif' stroke="#000" stroke-width="0.35">Neo+Cele</text>
<text x="632.50" y="613.70" font-size="12.6" font-weight="normal" text-anchor="start" font-family='"Liberation Sans", sans-serif' stroke="#000" stroke-width="0.35">Cele</text>
<text x="632.50" y="640.90" font-size="12.6" font-weight="normal" text-anchor="start" font-family='"Liberation Sans", sans-serif' stroke="#000" stroke-width="0.35">Diclo</text>
<text x="330.80" y="747.00" font-size="12.5" font-weight="bold" text-anchor="start" font-family='"Liberation Sans", sans-serif' transform="rotate(-90 330.80 747.00)" textLength="128.00" lengthAdjust="spacingAndGlyphs" >Corroelation between</text>
<text x="345.8" y="759.3" font-size="12.5" font-weight="bold" font-family='"Liberation Sans", sans-serif' transform="rotate(-90 345.8 759.3)" textLength="151.5" lengthAdjust="spacingAndGlyphs" xml:space="preserve">tail clip and  <tspan font-family='"Liberation Serif", serif' font-weight="normal" font-size="13.5" style="stroke-width:0.1px">β</tspan>-endorphin</text>
<defs><pattern id="p0" width="3.6" height="7.3" patternUnits="userSpaceOnUse" x="536.30" y="28.15"><rect width="3.6" height="7.3" fill="#fff"/><rect x="0.0" y="0.0" width="1.3" height="1.3" fill="#000"/><rect x="1.8" y="3.65" width="1.3" height="1.3" fill="#000"/></pattern><pattern id="p1" width="4.0" height="3.8" patternUnits="userSpaceOnUse" x="0.00" y="46.80"><rect width="4.0" height="3.8" fill="#fff"/><rect width="4.0" height="1.9" fill="#000"/></pattern><pattern id="p2" width="4.85" height="4.6" patternUnits="userSpaceOnUse" x="536.00" y="68.45"><rect width="4.85" height="4.6" fill="#fff"/><rect width="4.85" height="1.65" fill="#000"/><rect width="1.5" height="4.6" fill="#000"/></pattern><pattern id="p3" width="3.6" height="7.3" patternUnits="userSpaceOnUse" x="152.70" y="-31.05"><rect width="3.6" height="7.3" fill="#fff"/><rect x="0.0" y="0.0" width="1.3" height="1.3" fill="#000"/><rect x="1.8" y="3.65" width="1.3" height="1.3" fill="#000"/></pattern><pattern id="p4" width="4.0" height="3.8" patternUnits="userSpaceOnUse" x="0.00" y="-47.45"><rect width="4.0" height="3.8" fill="#fff"/><rect width="4.0" height="1.9" fill="#000"/></pattern><pattern id="p5" width="6.0" height="6.4" patternUnits="userSpaceOnUse" x="192.75" y="-128.70"><rect width="6.0" height="6.4" fill="#fff"/><rect width="6.0" height="2.2" fill="#000"/><rect width="2.2" height="6.4" fill="#000"/></pattern><pattern id="p6" width="3.6" height="7.3" patternUnits="userSpaceOnUse" x="241.85" y="-31.05"><rect width="3.6" height="7.3" fill="#fff"/><rect x="0.0" y="0.0" width="1.3" height="1.3" fill="#000"/><rect x="1.8" y="3.65" width="1.3" height="1.3" fill="#000"/></pattern><pattern id="p7" width="4.0" height="3.8" patternUnits="userSpaceOnUse" x="0.00" y="-47.45"><rect width="4.0" height="3.8" fill="#fff"/><rect width="4.0" height="1.9" fill="#000"/></pattern><pattern id="p8" width="6.0" height="6.4" patternUnits="userSpaceOnUse" x="281.90" y="-128.70"><rect width="6.0" height="6.4" fill="#fff"/><rect width="6.0" height="2.2" fill="#000"/><rect width="2.2" height="6.4" fill="#000"/></pattern><pattern id="p9" width="3.6" height="7.3" patternUnits="userSpaceOnUse" x="331.00" y="-31.05"><rect width="3.6" height="7.3" fill="#fff"/><rect x="0.0" y="0.0" width="1.3" height="1.3" fill="#000"/><rect x="1.8" y="3.65" width="1.3" height="1.3" fill="#000"/></pattern><pattern id="p10" width="4.0" height="3.8" patternUnits="userSpaceOnUse" x="0.00" y="-47.45"><rect width="4.0" height="3.8" fill="#fff"/><rect width="4.0" height="1.9" fill="#000"/></pattern><pattern id="p11" width="6.0" height="6.4" patternUnits="userSpaceOnUse" x="371.05" y="-128.70"><rect width="6.0" height="6.4" fill="#fff"/><rect width="6.0" height="2.2" fill="#000"/><rect width="2.2" height="6.4" fill="#000"/></pattern><pattern id="p12" width="3.6" height="7.3" patternUnits="userSpaceOnUse" x="420.15" y="-31.05"><rect width="3.6" height="7.3" fill="#fff"/><rect x="0.0" y="0.0" width="1.3" height="1.3" fill="#000"/><rect x="1.8" y="3.65" width="1.3" height="1.3" fill="#000"/></pattern><pattern id="p13" width="4.0" height="3.8" patternUnits="userSpaceOnUse" x="0.00" y="-47.45"><rect width="4.0" height="3.8" fill="#fff"/><rect width="4.0" height="1.9" fill="#000"/></pattern><pattern id="p14" width="6.0" height="6.4" patternUnits="userSpaceOnUse" x="460.20" y="-128.70"><rect width="6.0" height="6.4" fill="#fff"/><rect width="6.0" height="2.2" fill="#000"/><rect width="2.2" height="6.4" fill="#000"/></pattern><pattern id="p15" width="3.6" height="7.3" patternUnits="userSpaceOnUse" x="509.30" y="-31.05"><rect width="3.6" height="7.3" fill="#fff"/><rect x="0.0" y="0.0" width="1.3" height="1.3" fill="#000"/><rect x="1.8" y="3.65" width="1.3" height="1.3" fill="#000"/></pattern><pattern id="p16" width="4.0" height="3.8" patternUnits="userSpaceOnUse" x="0.00" y="-47.45"><rect width="4.0" height="3.8" fill="#fff"/><rect width="4.0" height="1.9" fill="#000"/></pattern><pattern id="p17" width="6.0" height="6.4" patternUnits="userSpaceOnUse" x="549.35" y="-128.70"><rect width="6.0" height="6.4" fill="#fff"/><rect width="6.0" height="2.2" fill="#000"/><rect width="2.2" height="6.4" fill="#000"/></pattern></defs>
</svg></body></html>
